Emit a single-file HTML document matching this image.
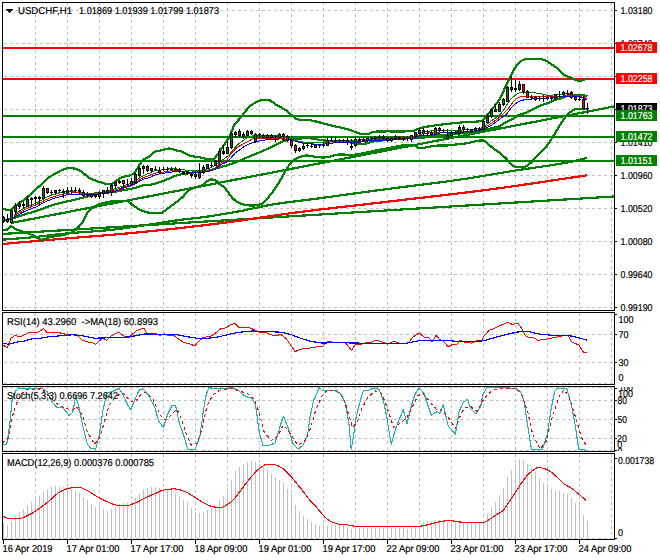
<!DOCTYPE html>
<html><head><meta charset="utf-8"><title>USDCHF,H1</title>
<style>
html,body{margin:0;padding:0;background:#fff;width:660px;height:560px;overflow:hidden}
svg{display:block}
text{font-family:"Liberation Sans",sans-serif;font-size:10px}
</style></head><body>
<svg width="660" height="560" viewBox="0 0 660 560" text-rendering="geometricPrecision">
<rect width="660" height="560" fill="#fff"/>
<line x1="4" y1="10.5" x2="614" y2="10.5" stroke="#c0c0c0" stroke-width="1" stroke-dasharray="3,3"/>
<line x1="4" y1="43.5" x2="614" y2="43.5" stroke="#c0c0c0" stroke-width="1" stroke-dasharray="3,3"/>
<line x1="4" y1="76.5" x2="614" y2="76.5" stroke="#c0c0c0" stroke-width="1" stroke-dasharray="3,3"/>
<line x1="4" y1="109.5" x2="614" y2="109.5" stroke="#c0c0c0" stroke-width="1" stroke-dasharray="3,3"/>
<line x1="4" y1="142.5" x2="614" y2="142.5" stroke="#c0c0c0" stroke-width="1" stroke-dasharray="3,3"/>
<line x1="4" y1="175.5" x2="614" y2="175.5" stroke="#c0c0c0" stroke-width="1" stroke-dasharray="3,3"/>
<line x1="4" y1="208.5" x2="614" y2="208.5" stroke="#c0c0c0" stroke-width="1" stroke-dasharray="3,3"/>
<line x1="4" y1="241.5" x2="614" y2="241.5" stroke="#c0c0c0" stroke-width="1" stroke-dasharray="3,3"/>
<line x1="4" y1="274.5" x2="614" y2="274.5" stroke="#c0c0c0" stroke-width="1" stroke-dasharray="3,3"/>
<line x1="4" y1="307.5" x2="614" y2="307.5" stroke="#c0c0c0" stroke-width="1" stroke-dasharray="3,3"/>
<line x1="35.5" y1="2" x2="35.5" y2="310" stroke="#c0c0c0" stroke-width="1" stroke-dasharray="3,3"/>
<line x1="67.5" y1="2" x2="67.5" y2="310" stroke="#c0c0c0" stroke-width="1" stroke-dasharray="3,3"/>
<line x1="99.5" y1="2" x2="99.5" y2="310" stroke="#c0c0c0" stroke-width="1" stroke-dasharray="3,3"/>
<line x1="131.5" y1="2" x2="131.5" y2="310" stroke="#c0c0c0" stroke-width="1" stroke-dasharray="3,3"/>
<line x1="163.5" y1="2" x2="163.5" y2="310" stroke="#c0c0c0" stroke-width="1" stroke-dasharray="3,3"/>
<line x1="195.5" y1="2" x2="195.5" y2="310" stroke="#c0c0c0" stroke-width="1" stroke-dasharray="3,3"/>
<line x1="227.5" y1="2" x2="227.5" y2="310" stroke="#c0c0c0" stroke-width="1" stroke-dasharray="3,3"/>
<line x1="259.5" y1="2" x2="259.5" y2="310" stroke="#c0c0c0" stroke-width="1" stroke-dasharray="3,3"/>
<line x1="291.5" y1="2" x2="291.5" y2="310" stroke="#c0c0c0" stroke-width="1" stroke-dasharray="3,3"/>
<line x1="323.5" y1="2" x2="323.5" y2="310" stroke="#c0c0c0" stroke-width="1" stroke-dasharray="3,3"/>
<line x1="355.5" y1="2" x2="355.5" y2="310" stroke="#c0c0c0" stroke-width="1" stroke-dasharray="3,3"/>
<line x1="387.5" y1="2" x2="387.5" y2="310" stroke="#c0c0c0" stroke-width="1" stroke-dasharray="3,3"/>
<line x1="419.5" y1="2" x2="419.5" y2="310" stroke="#c0c0c0" stroke-width="1" stroke-dasharray="3,3"/>
<line x1="451.5" y1="2" x2="451.5" y2="310" stroke="#c0c0c0" stroke-width="1" stroke-dasharray="3,3"/>
<line x1="483.5" y1="2" x2="483.5" y2="310" stroke="#c0c0c0" stroke-width="1" stroke-dasharray="3,3"/>
<line x1="515.5" y1="2" x2="515.5" y2="310" stroke="#c0c0c0" stroke-width="1" stroke-dasharray="3,3"/>
<line x1="547.5" y1="2" x2="547.5" y2="310" stroke="#c0c0c0" stroke-width="1" stroke-dasharray="3,3"/>
<line x1="579.5" y1="2" x2="579.5" y2="310" stroke="#c0c0c0" stroke-width="1" stroke-dasharray="3,3"/>
<line x1="611.5" y1="2" x2="611.5" y2="310" stroke="#c0c0c0" stroke-width="1" stroke-dasharray="3,3"/>
<line x1="4" y1="334.5" x2="614" y2="334.5" stroke="#c0c0c0" stroke-width="1" stroke-dasharray="3,3"/>
<line x1="4" y1="362.5" x2="614" y2="362.5" stroke="#c0c0c0" stroke-width="1" stroke-dasharray="3,3"/>
<line x1="4" y1="383.5" x2="614" y2="383.5" stroke="#c0c0c0" stroke-width="1" stroke-dasharray="3,3"/>
<line x1="35.5" y1="313" x2="35.5" y2="384" stroke="#c0c0c0" stroke-width="1" stroke-dasharray="3,3"/>
<line x1="67.5" y1="313" x2="67.5" y2="384" stroke="#c0c0c0" stroke-width="1" stroke-dasharray="3,3"/>
<line x1="99.5" y1="313" x2="99.5" y2="384" stroke="#c0c0c0" stroke-width="1" stroke-dasharray="3,3"/>
<line x1="131.5" y1="313" x2="131.5" y2="384" stroke="#c0c0c0" stroke-width="1" stroke-dasharray="3,3"/>
<line x1="163.5" y1="313" x2="163.5" y2="384" stroke="#c0c0c0" stroke-width="1" stroke-dasharray="3,3"/>
<line x1="195.5" y1="313" x2="195.5" y2="384" stroke="#c0c0c0" stroke-width="1" stroke-dasharray="3,3"/>
<line x1="227.5" y1="313" x2="227.5" y2="384" stroke="#c0c0c0" stroke-width="1" stroke-dasharray="3,3"/>
<line x1="259.5" y1="313" x2="259.5" y2="384" stroke="#c0c0c0" stroke-width="1" stroke-dasharray="3,3"/>
<line x1="291.5" y1="313" x2="291.5" y2="384" stroke="#c0c0c0" stroke-width="1" stroke-dasharray="3,3"/>
<line x1="323.5" y1="313" x2="323.5" y2="384" stroke="#c0c0c0" stroke-width="1" stroke-dasharray="3,3"/>
<line x1="355.5" y1="313" x2="355.5" y2="384" stroke="#c0c0c0" stroke-width="1" stroke-dasharray="3,3"/>
<line x1="387.5" y1="313" x2="387.5" y2="384" stroke="#c0c0c0" stroke-width="1" stroke-dasharray="3,3"/>
<line x1="419.5" y1="313" x2="419.5" y2="384" stroke="#c0c0c0" stroke-width="1" stroke-dasharray="3,3"/>
<line x1="451.5" y1="313" x2="451.5" y2="384" stroke="#c0c0c0" stroke-width="1" stroke-dasharray="3,3"/>
<line x1="483.5" y1="313" x2="483.5" y2="384" stroke="#c0c0c0" stroke-width="1" stroke-dasharray="3,3"/>
<line x1="515.5" y1="313" x2="515.5" y2="384" stroke="#c0c0c0" stroke-width="1" stroke-dasharray="3,3"/>
<line x1="547.5" y1="313" x2="547.5" y2="384" stroke="#c0c0c0" stroke-width="1" stroke-dasharray="3,3"/>
<line x1="579.5" y1="313" x2="579.5" y2="384" stroke="#c0c0c0" stroke-width="1" stroke-dasharray="3,3"/>
<line x1="611.5" y1="313" x2="611.5" y2="384" stroke="#c0c0c0" stroke-width="1" stroke-dasharray="3,3"/>
<line x1="4" y1="387.5" x2="614" y2="387.5" stroke="#c0c0c0" stroke-width="1" stroke-dasharray="3,3"/>
<line x1="4" y1="400.5" x2="614" y2="400.5" stroke="#c0c0c0" stroke-width="1" stroke-dasharray="3,3"/>
<line x1="4" y1="419.5" x2="614" y2="419.5" stroke="#c0c0c0" stroke-width="1" stroke-dasharray="3,3"/>
<line x1="4" y1="438.5" x2="614" y2="438.5" stroke="#c0c0c0" stroke-width="1" stroke-dasharray="3,3"/>
<line x1="4" y1="450.5" x2="614" y2="450.5" stroke="#c0c0c0" stroke-width="1" stroke-dasharray="3,3"/>
<line x1="35.5" y1="387" x2="35.5" y2="451" stroke="#c0c0c0" stroke-width="1" stroke-dasharray="3,3"/>
<line x1="67.5" y1="387" x2="67.5" y2="451" stroke="#c0c0c0" stroke-width="1" stroke-dasharray="3,3"/>
<line x1="99.5" y1="387" x2="99.5" y2="451" stroke="#c0c0c0" stroke-width="1" stroke-dasharray="3,3"/>
<line x1="131.5" y1="387" x2="131.5" y2="451" stroke="#c0c0c0" stroke-width="1" stroke-dasharray="3,3"/>
<line x1="163.5" y1="387" x2="163.5" y2="451" stroke="#c0c0c0" stroke-width="1" stroke-dasharray="3,3"/>
<line x1="195.5" y1="387" x2="195.5" y2="451" stroke="#c0c0c0" stroke-width="1" stroke-dasharray="3,3"/>
<line x1="227.5" y1="387" x2="227.5" y2="451" stroke="#c0c0c0" stroke-width="1" stroke-dasharray="3,3"/>
<line x1="259.5" y1="387" x2="259.5" y2="451" stroke="#c0c0c0" stroke-width="1" stroke-dasharray="3,3"/>
<line x1="291.5" y1="387" x2="291.5" y2="451" stroke="#c0c0c0" stroke-width="1" stroke-dasharray="3,3"/>
<line x1="323.5" y1="387" x2="323.5" y2="451" stroke="#c0c0c0" stroke-width="1" stroke-dasharray="3,3"/>
<line x1="355.5" y1="387" x2="355.5" y2="451" stroke="#c0c0c0" stroke-width="1" stroke-dasharray="3,3"/>
<line x1="387.5" y1="387" x2="387.5" y2="451" stroke="#c0c0c0" stroke-width="1" stroke-dasharray="3,3"/>
<line x1="419.5" y1="387" x2="419.5" y2="451" stroke="#c0c0c0" stroke-width="1" stroke-dasharray="3,3"/>
<line x1="451.5" y1="387" x2="451.5" y2="451" stroke="#c0c0c0" stroke-width="1" stroke-dasharray="3,3"/>
<line x1="483.5" y1="387" x2="483.5" y2="451" stroke="#c0c0c0" stroke-width="1" stroke-dasharray="3,3"/>
<line x1="515.5" y1="387" x2="515.5" y2="451" stroke="#c0c0c0" stroke-width="1" stroke-dasharray="3,3"/>
<line x1="547.5" y1="387" x2="547.5" y2="451" stroke="#c0c0c0" stroke-width="1" stroke-dasharray="3,3"/>
<line x1="579.5" y1="387" x2="579.5" y2="451" stroke="#c0c0c0" stroke-width="1" stroke-dasharray="3,3"/>
<line x1="611.5" y1="387" x2="611.5" y2="451" stroke="#c0c0c0" stroke-width="1" stroke-dasharray="3,3"/>
<line x1="4" y1="538.5" x2="614" y2="538.5" stroke="#c0c0c0" stroke-width="1" stroke-dasharray="3,3"/>
<line x1="35.5" y1="454" x2="35.5" y2="539" stroke="#c0c0c0" stroke-width="1" stroke-dasharray="3,3"/>
<line x1="67.5" y1="454" x2="67.5" y2="539" stroke="#c0c0c0" stroke-width="1" stroke-dasharray="3,3"/>
<line x1="99.5" y1="454" x2="99.5" y2="539" stroke="#c0c0c0" stroke-width="1" stroke-dasharray="3,3"/>
<line x1="131.5" y1="454" x2="131.5" y2="539" stroke="#c0c0c0" stroke-width="1" stroke-dasharray="3,3"/>
<line x1="163.5" y1="454" x2="163.5" y2="539" stroke="#c0c0c0" stroke-width="1" stroke-dasharray="3,3"/>
<line x1="195.5" y1="454" x2="195.5" y2="539" stroke="#c0c0c0" stroke-width="1" stroke-dasharray="3,3"/>
<line x1="227.5" y1="454" x2="227.5" y2="539" stroke="#c0c0c0" stroke-width="1" stroke-dasharray="3,3"/>
<line x1="259.5" y1="454" x2="259.5" y2="539" stroke="#c0c0c0" stroke-width="1" stroke-dasharray="3,3"/>
<line x1="291.5" y1="454" x2="291.5" y2="539" stroke="#c0c0c0" stroke-width="1" stroke-dasharray="3,3"/>
<line x1="323.5" y1="454" x2="323.5" y2="539" stroke="#c0c0c0" stroke-width="1" stroke-dasharray="3,3"/>
<line x1="355.5" y1="454" x2="355.5" y2="539" stroke="#c0c0c0" stroke-width="1" stroke-dasharray="3,3"/>
<line x1="387.5" y1="454" x2="387.5" y2="539" stroke="#c0c0c0" stroke-width="1" stroke-dasharray="3,3"/>
<line x1="419.5" y1="454" x2="419.5" y2="539" stroke="#c0c0c0" stroke-width="1" stroke-dasharray="3,3"/>
<line x1="451.5" y1="454" x2="451.5" y2="539" stroke="#c0c0c0" stroke-width="1" stroke-dasharray="3,3"/>
<line x1="483.5" y1="454" x2="483.5" y2="539" stroke="#c0c0c0" stroke-width="1" stroke-dasharray="3,3"/>
<line x1="515.5" y1="454" x2="515.5" y2="539" stroke="#c0c0c0" stroke-width="1" stroke-dasharray="3,3"/>
<line x1="547.5" y1="454" x2="547.5" y2="539" stroke="#c0c0c0" stroke-width="1" stroke-dasharray="3,3"/>
<line x1="579.5" y1="454" x2="579.5" y2="539" stroke="#c0c0c0" stroke-width="1" stroke-dasharray="3,3"/>
<line x1="611.5" y1="454" x2="611.5" y2="539" stroke="#c0c0c0" stroke-width="1" stroke-dasharray="3,3"/>
<defs><clipPath id="cm"><rect x="3" y="3" width="611" height="307"/></clipPath><clipPath id="cr"><rect x="3" y="313" width="611" height="71"/></clipPath><clipPath id="cs"><rect x="3" y="387" width="611" height="64"/></clipPath><clipPath id="cd"><rect x="3" y="454" width="611" height="85"/></clipPath></defs>
<g clip-path="url(#cm)">
<line x1="2" y1="48" x2="614" y2="48" stroke="#ff0000" stroke-width="2"/>
<line x1="2" y1="79" x2="614" y2="79" stroke="#ff0000" stroke-width="2"/>
<line x1="2" y1="116" x2="614" y2="116" stroke="#008000" stroke-width="2"/>
<line x1="2" y1="137" x2="614" y2="137" stroke="#008000" stroke-width="2"/>
<line x1="2" y1="161" x2="614" y2="161" stroke="#008000" stroke-width="2"/>
<polyline points="2,234 614,196.5" fill="none" stroke="#008000" stroke-width="2.2" stroke-linejoin="round" shape-rendering="crispEdges" />
<polyline points="2,239.7 4,239.54 6,239.39 8,239.24 10,239.09 12,238.94 14,238.79 16,238.64 18,238.49 20,238.34 22,238.18 24,238.02 26,237.85 28,237.68 30,237.5 32,237.31 34,237.11 36,236.9 38,236.68 40,236.46 42,236.22 44,235.99 46,235.75 48,235.51 50,235.27 52,235.03 54,234.79 56,234.56 58,234.33 60,234.11 62,233.9 64,233.69 66,233.5 68,233.32 70,233.14 72,232.98 74,232.82 76,232.66 78,232.51 80,232.36 82,232.22 84,232.08 86,231.94 88,231.79 90,231.65 92,231.51 94,231.36 96,231.21 98,231.06 100,230.9 102,230.74 104,230.56 106,230.39 108,230.2 110,230 112,229.79 114,229.57 116,229.34 118,229.09 120,228.84 122,228.58 124,228.31 126,228.04 128,227.75 130,227.47 132,227.17 134,226.88 136,226.58 138,226.28 140,225.98 142,225.68 144,225.38 146,225.09 148,224.79 150,224.5 151.94,224.22 153.88,223.92 155.81,223.63 157.75,223.32 159.69,223.02 161.62,222.71 163.56,222.4 165.5,222.09 167.44,221.79 169.38,221.48 171.31,221.18 173.25,220.89 175.19,220.6 177.12,220.33 179.06,220.06 181,219.8 182.9,219.56 184.8,219.34 186.7,219.12 188.6,218.91 190.5,218.7 192.4,218.5 194.3,218.29 196.2,218.07 198.1,217.84 200,217.6 202.02,217.33 204.04,217.05 206.07,216.76 208.09,216.47 210.11,216.17 212.13,215.86 214.16,215.55 216.18,215.23 218.2,214.91 220.22,214.58 222.24,214.25 224.27,213.91 226.29,213.56 228.31,213.22 230.33,212.87 232.36,212.51 234.38,212.16 236.4,211.8 238.42,211.43 240.43,211.05 242.45,210.65 244.47,210.24 246.48,209.81 248.5,209.39 250.52,208.95 252.53,208.51 254.55,208.08 256.57,207.64 258.58,207.21 260.6,206.78 262.62,206.37 264.63,205.96 266.65,205.57 268.67,205.19 270.68,204.84 272.7,204.5 274.67,204.19 276.64,203.88 278.61,203.58 280.58,203.3 282.55,203.01 284.52,202.74 286.5,202.47 288.47,202.21 290.44,201.95 292.41,201.69 294.38,201.44 296.35,201.19 298.32,200.94 300.29,200.7 302.26,200.46 304.23,200.21 306.2,199.97 308.18,199.72 310.15,199.48 312.12,199.23 314.09,198.98 316.06,198.72 318.03,198.46 320,198.2 322,197.93 324,197.66 326,197.39 328,197.11 330,196.84 332,196.57 334,196.29 336,196.02 338,195.74 340,195.47 342,195.19 344,194.92 346,194.64 348,194.37 350,194.09 352,193.81 354,193.54 356,193.26 358,192.99 360,192.71 362,192.44 364,192.16 366,191.89 368,191.62 370,191.35 372,191.08 374,190.81 376,190.54 378,190.27 380,190 382,189.73 384,189.47 386,189.21 388,188.95 390,188.69 392,188.43 394,188.18 396,187.93 398,187.67 400,187.42 402,187.17 404,186.92 406,186.67 408,186.42 410,186.17 412,185.92 414,185.67 416,185.42 418,185.18 420,184.93 422,184.67 424,184.42 426,184.17 428,183.92 430,183.66 432,183.41 434,183.15 436,182.89 438,182.63 440,182.37 442,182.1 444,181.83 446,181.56 448,181.29 450,181.02 452,180.74 454,180.46 456,180.18 458,179.89 460,179.6 461.96,179.31 463.93,179.02 465.89,178.72 467.86,178.41 469.82,178.11 471.79,177.79 473.75,177.48 475.71,177.16 477.68,176.84 479.64,176.51 481.61,176.19 483.57,175.86 485.54,175.53 487.5,175.2 489.46,174.87 491.43,174.53 493.39,174.2 495.36,173.87 497.32,173.53 499.29,173.2 501.25,172.87 503.21,172.54 505.18,172.21 507.14,171.88 509.11,171.56 511.07,171.24 513.04,170.92 515,170.6 517,170.28 519,169.97 521,169.66 523,169.36 525,169.06 527,168.77 529,168.48 531,168.19 533,167.9 535,167.61 537,167.32 539,167.04 541,166.75 543,166.45 545,166.16 547,165.86 549,165.56 551,165.25 553,164.94 555,164.63 557,164.3 559,163.97 561,163.63 563,163.29 565,162.93 567,162.56 569,162.19 571,161.8 573,161.39 575,160.94 577,160.47 579,159.98 581,159.48 583,158.98 585,158.48 587,158" fill="none" stroke="#008000" stroke-width="2.2" stroke-linejoin="round" shape-rendering="crispEdges" />
<polyline points="2,244 4,243.83 6,243.66 8,243.48 10,243.31 12,243.14 14,242.97 16,242.79 18,242.62 20,242.45 22,242.28 24,242.1 26,241.93 28,241.76 30,241.58 32,241.41 34,241.24 36,241.07 38,240.89 40,240.72 42,240.55 44,240.38 46,240.21 48,240.03 50,239.86 52,239.69 54,239.52 56,239.35 58,239.18 60,239.01 62,238.84 64,238.67 66,238.5 68,238.33 70,238.16 72,238 74,237.83 76,237.67 78,237.51 80,237.35 82,237.19 84,237.03 86,236.87 88,236.71 90,236.55 92,236.39 94,236.23 96,236.07 98,235.91 100,235.75 102,235.59 104,235.43 106,235.26 108,235.1 110,234.93 112,234.77 114,234.6 116,234.43 118,234.26 120,234.09 122,233.91 124,233.73 126,233.55 128,233.37 130,233.19 132,233 134,232.81 136,232.62 138,232.43 140,232.23 142,232.04 144,231.84 146,231.64 148,231.44 150,231.24 152,231.03 154,230.83 156,230.62 158,230.41 160,230.21 162,229.99 164,229.78 166,229.57 168,229.35 170,229.14 172,228.92 174,228.7 176,228.48 178,228.26 180,228.03 182,227.81 184,227.58 186,227.35 188,227.12 190,226.89 192,226.66 194,226.43 196,226.2 198,225.96 200,225.73 202,225.49 204,225.25 206,225.01 208,224.77 210,224.53 212,224.28 214,224.04 216,223.79 218,223.55 220,223.3 222,223.05 224,222.79 226,222.54 228,222.27 230,222 232,221.73 234,221.46 236,221.18 238,220.9 240,220.62 242,220.33 244,220.05 246,219.76 248,219.47 250,219.17 252,218.88 254,218.58 256,218.29 258,217.99 260,217.69 262,217.39 264,217.1 266,216.8 268,216.5 270,216.21 272,215.91 274,215.62 276,215.32 278,215.03 280,214.74 282,214.46 284,214.17 286,213.89 288,213.61 290,213.33 292,213.06 294,212.79 296,212.52 298,212.26 300,212 302,211.74 304,211.49 306,211.24 308,210.99 310,210.74 312,210.5 314,210.25 316,210.01 318,209.77 320,209.53 322,209.3 324,209.06 326,208.82 328,208.59 330,208.36 332,208.12 334,207.89 336,207.66 338,207.43 340,207.2 342,206.97 344,206.75 346,206.52 348,206.29 350,206.06 352,205.83 354,205.61 356,205.38 358,205.15 360,204.92 362,204.69 364,204.46 366,204.23 368,204 370,203.77 372,203.54 374,203.31 376,203.07 378,202.84 380,202.6 382,202.36 383.99,202.13 385.99,201.89 387.99,201.66 389.98,201.42 391.98,201.19 393.98,200.96 395.97,200.72 397.97,200.49 399.96,200.26 401.96,200.03 403.96,199.8 405.95,199.56 407.95,199.33 409.95,199.1 411.94,198.87 413.94,198.64 415.94,198.41 417.93,198.18 419.93,197.95 421.93,197.71 423.92,197.48 425.92,197.25 427.91,197.02 429.91,196.79 431.91,196.55 433.9,196.32 435.9,196.09 437.9,195.85 439.89,195.62 441.89,195.38 443.89,195.15 445.88,194.91 447.88,194.67 449.88,194.44 451.87,194.2 453.87,193.96 455.86,193.72 457.86,193.48 459.86,193.23 461.85,192.99 463.85,192.75 465.85,192.5 467.84,192.26 469.84,192.01 471.84,191.76 473.83,191.51 475.83,191.26 477.83,191.01 479.82,190.75 481.82,190.5 483.81,190.24 485.81,189.98 487.81,189.72 489.8,189.46 491.8,189.2 493.78,188.94 495.77,188.67 497.75,188.4 499.73,188.14 501.72,187.86 503.7,187.59 505.68,187.31 507.67,187.04 509.65,186.76 511.63,186.48 513.62,186.2 515.6,185.91 517.58,185.63 519.57,185.34 521.55,185.05 523.53,184.76 525.52,184.47 527.5,184.18 529.48,183.89 531.47,183.6 533.45,183.3 535.43,183.01 537.42,182.71 539.4,182.42 541.38,182.12 543.37,181.82 545.35,181.52 547.33,181.23 549.32,180.93 551.3,180.63 553.28,180.33 555.27,180.03 557.25,179.73 559.23,179.43 561.22,179.14 563.2,178.84 565.18,178.54 567.17,178.24 569.15,177.94 571.13,177.65 573.12,177.35 575.1,177.06 577.08,176.76 579.07,176.47 581.05,176.17 583.03,175.88 585.02,175.59 587,175.3" fill="none" stroke="#ff0000" stroke-width="2.2" stroke-linejoin="round" shape-rendering="crispEdges" />
<polyline points="11,223 614,106.5" fill="none" stroke="#008000" stroke-width="2.2" stroke-linejoin="round" shape-rendering="crispEdges" />
<polyline points="2,229.7 4,229.65 6,229.6 8,229.5 10.8,226.3 12.77,227.01 14.73,228.47 16.7,229.7 18.77,230.43 20.85,231.01 22.93,231.57 25,232.2 27.07,232.94 29.15,233.75 31.22,234.6 33.3,235.5 35.4,236.68 37.5,238.06 39.6,239.22 41.7,239.7 43.78,239.39 45.85,238.68 47.92,237.85 50,237.2 52,236.8 54,236.46 56,236.16 58,235.85 60,235.5 62.08,235.13 64.15,234.77 66.22,234.34 68.3,233.8 70.8,232.75 73.3,231.3 75.8,229.47 78.3,227.2 80.8,224.57 83.3,221.3 85.65,216.48 88,212 90,209.92 92,208.32 94,207 96,205.82 98,204.8 100,204 102,203.37 104,202.83 106,202.37 108,202 110,201.66 112,201.33 114,201.09 116,201 117.92,201 119.83,201 121.75,201 123.67,201 125.58,201 127.5,201 130,202.56 132.5,205 134.38,206.29 136.25,207.51 138.12,208.62 140,209.6 142.27,210.7 144.53,211.67 146.8,212.3 148.87,212.64 150.93,212.9 153,213 154.88,213 156.75,213 158.62,213 160.5,213 162.77,212.27 165.03,210.64 167.3,208.9 169.35,207.46 171.4,205.93 173.45,204.32 175.5,202.7 177.55,201.11 179.6,199.52 181.65,197.81 183.7,195.9 185.7,193.36 187.7,191.1 190,189.67 192.3,188.59 194.6,187.7 196.87,187.03 199.13,186.47 201.4,185.7 203.2,184.53 205,182.98 206.8,181.6 208.85,180.24 210.9,179.5 212.95,179.58 215,179.8 217.05,181.34 219.1,183.6 220.93,184.95 222.77,186.19 224.6,187.7 226.4,189.88 228.2,192.52 230,195 232.5,198.08 235,200.5 237.07,201.82 239.15,202.94 241.23,203.82 243.3,204.4 245.16,204.77 247.02,205.1 248.88,205.36 250.74,205.54 252.6,205.6 254.46,205.51 256.32,205.24 258.18,204.84 260.04,204.32 261.9,203.7 264.2,202.14 266.5,199.58 268.8,196.8 270.55,194.71 272.3,192.44 274.05,190.03 275.8,187.5 277.55,184.78 279.3,181.87 281.05,178.87 282.8,175.9 285.1,171.75 287.4,167.59 289.7,164.3 291.45,162.46 293.2,160.84 294.95,159.51 296.7,158.5 298.56,157.62 300.42,156.81 302.28,156.13 304.14,155.67 306,155.5 308,155.61 310,155.9 312,156.27 314,156.63 316,156.9 318,157.1 320,157.3 322,157.44 324,157.5 326,157.37 328,157.03 330,156.55 332,156 334,155.45 336,154.97 338,154.63 340,154.5 342,154.52 344,154.58 346,154.65 348,154.72 350,154.78 352,154.8 354,154.72 356,154.5 358,154.19 360,153.84 362,153.5 364,153.15 366,152.74 368,152.3 370,151.84 372,151.38 374,150.92 376,150.5 378.08,150.09 380.17,149.68 382.25,149.29 384.33,148.9 386.42,148.5 388.5,148.1 390.52,147.69 392.53,147.26 394.55,146.83 396.57,146.41 398.58,146.03 400.6,145.7 402.48,145.41 404.36,145.12 406.24,144.86 408.12,144.67 410,144.6 412,144.71 414,145 416,146.3 418,147.6 420,147.89 422,148 424,147.81 426,147.4 428,147 430.25,146.59 432.5,146.14 434.75,145.78 437,145.6 439.25,145.57 441.5,145.55 443.75,145.53 446,145.5 448.25,145.38 450.5,145.14 452.75,144.86 455,144.6 457.25,144.39 459.5,144.19 461.75,143.97 464,143.7 466.25,143.33 468.5,142.87 470.75,142.37 473,141.9 474.88,141.48 476.75,141.02 478.62,140.65 480.5,140.5 483.3,140.5 485.15,141.54 487,143.3 489.25,145.1 491.5,146.9 493.33,148.29 495.17,149.64 497,151 498.8,152.33 500.6,153.66 502.4,155.1 504.7,157.16 507,159.5 509,162.21 511,164.5 513.1,165.82 515.2,166.81 517.3,167.2 519.43,167.2 521.57,167.2 523.7,167.2 525.8,166.59 527.9,165.16 530,163.5 532.15,161.54 534.3,159.12 536.45,156.54 538.6,154.1 540.7,152.01 542.8,150.03 544.9,147.95 547,145.6 549.13,142.7 551.27,139.4 553.4,136 555.53,132.5 557.67,128.9 559.8,125.5 561.92,122.2 564.05,118.92 566.17,116 568.3,113.8 570.42,112.06 572.55,110.49 574.67,109.34 576.8,108.9 578.87,108.9 580.93,108.9 583,108.9 585,108.94 587,109" fill="none" stroke="#008000" stroke-width="2.2" stroke-linejoin="round" shape-rendering="crispEdges" />
<polyline points="2,220.5 4,220.11 6,219.74 8,219.36 10,218.95 12,218.5 14.17,217.92 16.33,217.27 18.5,216.56 20.67,215.83 22.83,215.1 25,214.4 27.08,213.77 29.17,213.15 31.25,212.54 33.33,211.92 35.42,211.27 37.5,210.6 39.58,209.87 41.67,209.09 43.75,208.28 45.83,207.47 47.92,206.7 50,206 52.08,205.35 54.17,204.74 56.25,204.15 58.33,203.58 60.42,203.03 62.5,202.5 64.44,202.02 66.39,201.57 68.33,201.13 70.28,200.71 72.22,200.29 74.17,199.86 76.11,199.43 78.06,198.98 80,198.5 82,197.97 84,197.42 86,196.86 88,196.3 89.98,195.72 91.96,195.11 93.94,194.51 95.92,193.99 97.9,193.6 99.79,193.33 101.68,193.11 103.56,192.92 105.45,192.75 107.34,192.59 109.22,192.42 111.11,192.23 113,192 115.17,191.68 117.33,191.33 119.5,190.93 121.67,190.52 123.83,190.11 126,189.7 127.86,189.36 129.72,189.03 131.58,188.68 133.44,188.31 135.3,187.9 137.16,187.36 139.02,186.7 140.88,186.03 142.74,185.46 144.6,185.1 146.4,184.95 148.2,184.85 150,184.7 151.94,184.41 153.89,183.98 155.83,183.44 157.77,182.82 159.71,182.15 161.66,181.47 163.6,180.8 165.56,180.08 167.51,179.25 169.47,178.36 171.43,177.48 173.39,176.64 175.34,175.89 177.3,175.3 179.48,174.78 181.66,174.32 183.84,173.91 186.02,173.54 188.2,173.2 190.47,172.87 192.73,172.57 195,172.3 196.92,172.11 198.84,171.96 200.76,171.8 202.68,171.63 204.6,171.4 206.5,171.07 208.4,170.62 210.3,170.09 212.2,169.54 214.1,169 216.4,168.35 218.7,167.67 221,167 222.8,166.5 224.6,166.02 226.4,165.5 228.32,164.91 230.24,164.31 232.16,163.67 234.08,163.01 236,162.3 237.82,161.57 239.64,160.77 241.46,159.94 243.28,159.1 245.1,158.3 246.92,157.53 248.74,156.77 250.56,156.01 252.38,155.26 254.2,154.5 256.02,153.74 257.84,152.99 259.66,152.24 261.48,151.48 263.3,150.7 265.12,149.91 266.94,149.11 268.76,148.29 270.58,147.46 272.4,146.6 274.22,145.69 276.04,144.71 277.86,143.74 279.68,142.82 281.5,142 283.3,141.29 285.1,140.65 286.9,140.1 288.6,139.6 290.3,139.16 292,138.91 294,138.82 296,138.76 298,138.72 300,138.67 302,138.33 304,138.02 306,138.02 308,138.03 310,138.27 312,138.68 314,139.01 316,139.33 318,139.59 320,139.85 322,140.25 324,140.55 326,140.62 328,140.66 330,140.72 332,140.77 334,140.83 336,140.89 338,140.94 340,141.02 342,141.25 344,141.57 346,141.84 348,142.12 350,142.45 352,142.76 354,143.03 356,143.26 358,143.46 360,143.6 362,143.66 364,143.69 366,143.5 368,143.11 370,142.48 372,141.81 374,141.39 376,141.08 378,140.85 380,140.66 382,140.45 384,140.24 386,140.02 388,139.82 390,139.61 392,139.41 394,139.22 396,139.04 398,138.85 400,138.66 402,138.49 404,138.32 406,138.14 408,138.01 410,137.94 412,137.91 414,137.97 416,138.02 418,138.01 420,138 422,137.84 424,137.56 426,137.23 428,136.86 430,136.51 432,136.17 434,135.83 436,135.54 438,135.35 440,135.2 442,135.07 444,134.94 446,134.77 448,134.58 450,134.37 452,134.14 454,133.95 456,133.76 458,133.58 460,133.4 462,133.23 464,133.03 466,132.77 468,132.47 470,132.19 472,131.93 474,131.7 476,131.46 478,131.19 480,130.86 482,130.29 484,129.72 486,129.42 488,129.12 490,128.68 492,128.19 494,127.72 496,127.2 498,126.56 500,125.77 502,124.59 504,123.3 506,122.23 508,121.22 510,120.3 512,119.32 514,117.99 516,116.62 518,115.48 520,114.56 522,113.97 524,113.41 526,112.67 528,111.84 530,110.94 532,109.96 534,108.87 536,107.77 538,106.76 540,105.85 542,105.1 544,104.42 546,103.79 548,103.13 550,102.3 552,101.4 554,100.42 556,99.57 558,99.07 560,98.6 562,97.94 564,97.19 566,96.5 567.75,95.9 569.5,95.28 571.25,94.8 573,94.6 574.75,94.61 576.5,94.62 578.25,94.66 580,94.7 582,94.98 584,95.4 585.75,95.7 587.5,96" fill="none" stroke="#008000" stroke-width="2.2" stroke-linejoin="round" shape-rendering="crispEdges" />
<polyline points="2,209 4,209.3 6,209.62 8,209.89 10,210 12,209.16 14,207.32 16,205.5 18,204.08 20,202.69 22,201.29 24,199.8 26,198.2 28,196.51 30,194.77 32,193 34,191.19 36,189.34 38,187.46 40,185.6 42,183.68 44,181.72 46,179.85 48,178.2 50,176.78 52,175.5 54,174.32 56,173.2 58,172.08 60,171 62,170.04 64,169.3 66,168.7 68,168.21 70,168 72,168.15 74,168.52 76,169 78,169.72 80,170.78 82,172 84,173.57 86,175.43 88,177 90,178.15 92,179.13 94,180 96.13,180.85 98.27,181.62 100.4,182.3 102.2,182.88 104,183.47 105.8,183.92 107.6,184.1 110.05,183.92 112.5,183.5 114.57,182.44 116.63,180.68 118.7,179.1 121,177.79 123.3,176.8 126,176.2 128.35,175.81 130.7,175.3 133,173.9 135.3,171.6 137.7,167.8 140.3,163.5 142.9,160 144.6,159.01 146.3,158.2 148,157.21 149.7,156.1 152.2,154 153.9,152.49 155.6,151.4 157.7,150.94 159.8,150.6 161.95,150.16 164.1,149.7 165.8,149.22 167.5,148.73 169.2,148.5 171.7,148.9 173.85,149.69 176,150.5 178,150.85 180,151.1 182,151.5 184,152.64 186,154 188.5,155.16 191,156 193,156.38 195,156.66 197,156.89 199,157.15 201,157.5 203.5,158.31 206,159 207.75,159.2 209.5,159.35 211.25,159.46 213,159.5 214.5,158.43 216,156.5 218,153.89 220,151 222,148.03 224,145 226,142.11 228,139 229.75,135.71 231.5,132 233,128.12 234.5,124.7 236.3,122.41 238.1,120.5 239.95,118.39 241.8,116.2 243.6,113.79 245.4,111.4 247.8,108.45 250.2,106 252.65,104.28 255.1,102.9 257.5,101.61 259.9,100.7 261.93,100.3 263.97,100.01 266,99.9 268.4,100.13 270.8,100.7 273.25,102.48 275.7,104.7 277.73,105.82 279.77,106.77 281.8,107.8 284.2,109.2 286.6,110.8 289.05,112.82 291.5,115 293.3,116.7 295.1,118.1 297.5,119.32 299.9,119.9 301.93,119.9 303.97,119.9 306,119.9 308,119.99 310,120.23 312,120.59 314,121.03 316,121.52 318,122.02 320,122.5 322,123.03 324,123.6 325.92,124.09 327.83,124.56 329.75,125.02 331.67,125.47 333.58,125.93 335.5,126.4 337.39,126.86 339.27,127.3 341.16,127.74 343.05,128.18 344.94,128.64 346.83,129.12 348.71,129.64 350.6,130.2 352.45,130.86 354.3,131.63 356.15,132.39 358,133 360,133.58 362,134.08 364,134.3 366,134.21 368,134 369.77,133.32 371.53,132.28 373.3,131.7 375.39,131.62 377.48,131.56 379.56,131.5 381.65,131.46 383.74,131.43 385.82,131.41 387.91,131.4 390,131.4 392,131.41 394,131.44 396,131.46 398,131.49 400,131.5 402.12,131.49 404.23,131.44 406.35,131.37 408.47,131.27 410.58,131.15 412.7,131 414.52,130.57 416.35,129.77 418.18,128.88 420,128.2 422.07,127.69 424.14,127.24 426.21,126.83 428.29,126.47 430.36,126.13 432.43,125.81 434.5,125.5 436.52,125.21 438.54,124.93 440.57,124.66 442.59,124.41 444.61,124.17 446.63,123.94 448.66,123.71 450.68,123.5 452.7,123.3 454.72,123.1 456.74,122.91 458.77,122.72 460.79,122.54 462.81,122.36 464.83,122.2 466.86,122.05 468.88,121.92 470.9,121.8 472.67,121.72 474.45,121.67 476.23,121.6 478,121.5 479.85,121.26 481.7,120.8 483.6,119.49 485.5,117.26 487.4,114.9 489.7,112.06 492,109.1 494.3,106.31 496.6,103.4 498.85,100.27 501.1,96.6 502.85,92.74 504.6,88.6 506.3,85.09 508,81.7 509.7,78.29 511.4,74.9 513.15,71.26 514.9,68 517.15,64.75 519.4,62.3 521.2,60.92 523,60 524.75,59.46 526.5,59.02 528.25,58.71 530,58.6 532.15,58.6 534.3,58.6 536.45,58.6 538.6,58.6 540.38,58.79 542.15,59.29 543.93,59.96 545.7,60.7 547.6,61.71 549.5,63 551.4,64.3 553.55,65.62 555.7,67.1 557.85,69.18 560,71.4 562.15,73.38 564.3,75 566.2,75.92 568.1,76.65 570,77.4 571.9,78.34 573.8,79.31 575.7,80 577.85,80.48 580,80.7 582,80.32 584,79.7 585.5,79.35 587,79" fill="none" stroke="#008000" stroke-width="2.2" stroke-linejoin="round" shape-rendering="crispEdges" />
<polyline points="13.5,215.4 15.3,213.96 17.1,212.6 18.92,211.38 20.74,210.22 22.56,209.13 24.38,208.12 26.2,207.2 28.02,206.38 29.84,205.66 31.66,204.97 33.48,204.27 35.3,203.5 37.55,202.45 39.8,201.3 42.1,199.9 44.4,198.5 46.65,197.34 48.9,196.3 51.2,195.35 53.5,194.5 55.75,193.72 58,193.1 60.25,192.72 62.5,192.4 64.75,191.96 67,191.7 69.25,191.73 71.5,191.8 73.75,191.89 76,192 78,192.16 80,192.4 82,192.67 84,192.93 86,193.12 88,193.2 90,193.17 92,193.1 94,192.99 96,192.85 98,192.69 100,192.5 102.17,192.18 104.35,191.68 106.53,191.1 108.7,190.5 110.64,189.96 112.58,189.37 114.52,188.75 116.46,188.12 118.4,187.5 120.3,186.92 122.2,186.34 124.1,185.74 126,185.1 127.75,184.48 129.5,183.82 131.25,183.1 133,182.3 135.3,181.02 137.6,179.5 140,177.6 142.3,176.24 144.6,175.1 146.95,174.14 149.3,173.2 151.6,171.88 153.9,170.9 156,170.67 158.1,170.5 160.09,170.23 162.07,169.88 164.06,169.5 166.04,169.13 168.03,168.81 170.01,168.58 172,168.5 174.08,168.59 176.17,168.83 178.25,169.15 180.33,169.49 182.42,169.8 184.5,170 186.42,170.12 188.33,170.24 190.25,170.34 192.17,170.42 194.08,170.48 196,170.5 198.12,170.43 200.23,170.22 202.35,169.9 204.47,169.49 206.58,169.02 208.7,168.5 210.67,167.83 212.65,166.87 214.62,165.73 216.6,164.5 218.55,163.07 220.5,161.5 222.5,159.95 224.5,158.4 226.7,156.85 228.9,155.1 231.1,152.49 233.3,149.6 235.45,146.98 237.6,144.7 239.25,143.45 240.9,142.3 242.7,140.86 244.5,139.5 246.75,138.1 249,137 251.5,136.03 254,135.5 256,135.44 258,135.38 260,135.35 262,135.32 264,135.3 266,135.3 268,135.32 270,135.37 272,135.45 274,135.56 276,135.69 278,135.84 280,136 282,136.23 284,136.58 286,137.01 288,137.49 290,138 292,138.63 294,139.42 296,140.24 298,140.98 300,141.5 302,141.87 304,142.22 306,142.53 308,142.78 310,142.94 312,143 314,142.99 316,142.95 318,142.89 320,142.81 322,142.72 324,142.61 326,142.5 328,142.32 330,142.02 332,141.67 334,141.29 336,140.94 338,140.66 340,140.5 342,140.42 344,140.36 346,140.31 348,140.27 350,140.23 352,140.2 354,140.16 356,140.12 358,140.07 360,140 362,139.91 364,139.79 366,139.64 368,139.48 370,139.31 372,139.13 374,138.95 376,138.79 378,138.63 380,138.5 382,138.39 384,138.28 386,138.19 388,138.1 390,138.01 392,137.92 394,137.83 396,137.73 398,137.62 400,137.5 402,137.38 404,137.25 406,137.12 408,136.95 410,136.75 412,136.5 414,135.97 416,135.1 418,134.08 420,133.15 422,132.5 424,132.08 426,131.69 428,131.33 430,131.03 432,130.78 434,130.6 436,130.5 438,130.45 440,130.41 442,130.38 444,130.36 446,130.34 448,130.32 450,130.3 452,130.27 454,130.24 456,130.2 458,130.14 460,130.07 462,129.99 464,129.89 466,129.77 468,129.64 470,129.5 472.16,129.32 474.32,129.1 476.48,128.81 478.64,128.45 480.8,128 482.74,127.26 484.68,126.05 486.62,124.57 488.56,122.99 490.5,121.5 492.33,120.22 494.17,118.97 496,117.68 497.83,116.3 499.67,114.76 501.5,113 503.62,110.2 505.75,106.66 507.88,103.12 510,100.3 511.88,98.37 513.76,96.56 515.64,94.97 517.52,93.69 519.4,92.8 521,92.26 522.6,92 524.48,92.04 526.36,92.14 528.24,92.28 530.12,92.44 532,92.6 534,92.78 536,92.98 538,93.22 540,93.5 542,93.93 544,94.5 546,94.99 548,95.2 550,95.17 552,95.08 554,94.96 556,94.81 558,94.66 560,94.5 562,94.3 564,94.04 566,93.78 568,93.58 570,93.5 572,93.7 574,94.2 576,94.85 578,95.5 580.25,96.27 582.5,97.15 584.75,98.09 587,99" fill="none" stroke="#008000" stroke-width="1" stroke-linejoin="round" shape-rendering="crispEdges" />
<polyline points="13.5,216.3 15.3,215.13 17.1,214 18.92,212.93 20.74,211.89 22.56,210.89 24.38,209.92 26.2,209 28.02,208.12 29.84,207.28 31.66,206.46 33.48,205.67 35.3,204.9 37.55,204.03 39.8,203.1 42.1,201.76 44.4,200.4 46.65,199.4 48.9,198.5 51.2,197.56 53.5,196.7 55.75,196.02 58,195.4 60.25,194.77 62.5,194.2 64.75,193.67 67,193.3 68.82,193.14 70.64,193 72.46,192.9 74.28,192.83 76.1,192.8 78.13,192.87 80.17,193.04 82.2,193.2 84.2,193.34 86.2,193.49 88.2,193.6 90.23,193.69 92.27,193.77 94.3,193.8 96.33,193.77 98.37,193.7 100.4,193.6 102.42,193.4 104.43,193.03 106.45,192.54 108.47,191.97 110.48,191.38 112.5,190.8 114.43,190.23 116.36,189.6 118.29,188.92 120.21,188.22 122.14,187.52 124.07,186.84 126,186.2 127.75,185.69 129.5,185.23 131.25,184.73 133,184.1 135.3,182.83 137.6,181.3 139.95,179.62 142.3,178.1 144.6,177.05 146.9,176.2 148.45,175.76 150,175.3 151.95,174.35 153.9,173.5 156.03,173.07 158.15,172.75 160.28,172.49 162.4,172.2 164.5,171.86 166.6,171.51 168.7,171.18 170.8,170.9 172.5,170.68 174.2,170.49 175.9,170.4 178.05,170.57 180.2,170.97 182.35,171.43 184.5,171.8 186.5,172.06 188.5,172.3 190.5,172.4 192.53,172.38 194.57,172.32 196.6,172.23 198.63,172.1 200.67,171.96 202.7,171.8 204.76,171.58 206.82,171.24 208.88,170.78 210.94,170.2 213,169.5 215.5,167.83 218,165.5 220.2,163.3 221.85,162.72 223.5,162.2 225.4,161.12 227.3,159.5 230,155.1 231.65,153.08 233.3,151.3 235.2,149.24 237.1,147.5 239,146.31 240.9,145.3 242.68,144.34 244.45,143.42 246.22,142.51 248,141.6 250,140.37 252,139.14 254,138.5 256.5,138.38 259,138.3 260.83,138.24 262.67,138.17 264.5,138.1 266.33,138.05 268.17,138.01 270,138 271.88,138.02 273.75,138.09 275.62,138.18 277.5,138.31 279.38,138.46 281.25,138.63 283.12,138.81 285,139 286.83,139.22 288.67,139.49 290.5,139.81 292.33,140.18 294.17,140.58 296,141 297.82,141.56 299.65,142.26 301.48,142.9 303.3,143.3 305.44,143.53 307.58,143.72 309.72,143.87 311.86,143.97 314,144 316,144 318,144 320,144 322,144 324,144 326,143.91 328,143.68 330,143.35 332,142.96 334,142.57 336,142.21 338,141.94 340,141.8 342,141.75 344,141.71 346,141.68 348,141.66 350,141.64 352,141.61 354,141.59 356,141.55 358,141.5 360,141.4 362,141.24 364,141.03 366,140.78 368,140.52 370,140.25 372,140 374,139.77 376,139.6 378,139.46 380,139.34 382,139.23 384,139.13 386,139.03 388,138.93 390,138.83 392,138.73 394,138.62 396,138.5 398,138.38 400,138.27 402,138.15 404,138.03 406,137.89 408,137.73 410,137.53 412,137.3 414,136.85 416,136.13 418,135.3 420,134.54 422,134 424.09,133.62 426.17,133.27 428.26,132.94 430.34,132.67 432.43,132.44 434.51,132.28 436.6,132.2 438.54,132.17 440.48,132.14 442.42,132.12 444.36,132.1 446.3,132.09 448.24,132.08 450.18,132.07 452.12,132.05 454.06,132.03 456,132 458,131.96 460,131.92 462,131.86 464,131.8 466,131.71 468,131.62 470,131.5 472.16,131.29 474.32,130.94 476.48,130.48 478.64,129.92 480.8,129.3 482.74,128.57 484.68,127.58 486.62,126.42 488.56,125.17 490.5,123.9 492.33,122.67 494.17,121.37 496,119.98 497.83,118.52 499.67,116.99 501.5,115.4 503.3,113.77 505.1,112.03 506.9,110.15 508.7,108.1 510.9,104.85 513.1,101.9 515.08,100.06 517.05,98.38 519.02,97.17 521,96.7 522.83,96.7 524.67,96.7 526.5,96.7 528.33,96.7 530.17,96.7 532,96.7 534.17,96.72 536.33,96.78 538.5,96.85 540.67,96.92 542.83,96.98 545,97 546.88,96.99 548.75,96.94 550.62,96.88 552.5,96.8 554.38,96.71 556.25,96.61 558.12,96.5 560,96.4 562,96.25 564,96.04 566,95.83 568,95.67 570,95.6 572,95.65 574,95.78 576,95.98 578,96.23 580,96.5 581.75,96.86 583.5,97.37 585.25,97.95 587,98.5" fill="none" stroke="#ff0000" stroke-width="1" stroke-linejoin="round" shape-rendering="crispEdges" />
<polyline points="2,219 4,219 6,219 8,219 10,219 11.75,218.51 13.5,217.6 15.3,216.54 17.1,215.4 18.92,214.4 20.74,213.43 22.56,212.51 24.38,211.63 26.2,210.8 28.02,210.04 29.84,209.35 31.66,208.67 33.48,207.97 35.3,207.2 37.55,206.1 39.8,204.9 42.1,203.51 44.4,202.2 46.65,201.26 48.9,200.4 51.2,199.41 53.5,198.5 55.75,197.81 58,197.2 60.25,196.59 62.5,196 64.75,195.36 67,194.9 68.82,194.74 70.64,194.6 72.46,194.49 74.28,194.42 76.1,194.4 78.12,194.4 80.13,194.4 82.15,194.4 84.17,194.4 86.18,194.4 88.2,194.4 90.23,194.39 92.27,194.35 94.3,194.28 96.33,194.2 98.37,194.11 100.4,194 102.42,193.84 104.43,193.58 106.45,193.25 108.47,192.87 110.48,192.44 112.5,192 114.43,191.51 116.36,190.92 118.29,190.24 120.21,189.53 122.14,188.79 124.07,188.08 126,187.4 127.75,186.85 129.5,186.33 131.25,185.77 133,185.1 135.3,183.89 137.6,182.5 139.95,181 142.3,179.7 144.6,178.94 146.9,178.3 148.45,177.88 150,177.4 151.95,176.27 153.9,175.2 156.03,174.63 158.15,174.2 160.28,173.85 162.4,173.5 164.5,173.14 166.6,172.81 168.7,172.49 170.8,172.2 172.5,171.94 174.2,171.71 175.9,171.6 178.05,171.62 180.2,171.67 182.35,171.73 184.5,171.8 186.52,171.89 188.53,172.01 190.55,172.15 192.57,172.27 194.58,172.36 196.6,172.4 198.62,172.35 200.63,172.22 202.65,172.02 204.67,171.78 206.68,171.5 208.7,171.2 210.85,170.81 213,170.2 214.95,169.07 216.9,167.6 219.1,165.92 221.3,164.4 223.75,163.32 226.2,162.2 227.85,161 229.5,159.5 231.4,157.36 233.3,155.1 234.95,153.33 236.6,151.8 238.75,150.4 240.9,149.1 242.95,147.5 245,146 246.83,145 248.67,144.13 250.5,143.4 252.53,142.71 254.57,142.11 256.6,141.6 258.5,141.17 260.4,140.77 262.3,140.39 264.2,140.06 266.1,139.79 268,139.6 270,139.45 272,139.31 274,139.18 276,139.09 278,139.02 280,139 281.88,139 283.75,139 285.62,139 287.5,139 289.62,139.28 291.75,139.94 293.88,140.74 296,141.4 298.12,141.92 300.25,142.42 302.38,142.86 304.5,143.2 306.42,143.44 308.33,143.67 310.25,143.88 312.17,144.05 314.08,144.16 316,144.2 317.94,144.19 319.88,144.16 321.82,144.12 323.76,144.06 325.7,144 327.74,143.85 329.79,143.57 331.83,143.22 333.87,142.86 335.91,142.53 337.96,142.29 340,142.2 342.04,142.2 344.09,142.2 346.13,142.2 348.18,142.2 350.22,142.2 352.27,142.2 354.31,142.2 356.36,142.2 358.4,142.2 360.55,142.05 362.7,141.69 364.85,141.29 367,141 368.92,140.85 370.84,140.72 372.76,140.61 374.68,140.5 376.6,140.4 378.54,140.3 380.48,140.21 382.42,140.12 384.36,140.03 386.3,139.95 388.24,139.87 390.18,139.78 392.12,139.69 394.06,139.6 396,139.5 398,139.4 400,139.31 402,139.21 404,139.11 406,139 408,138.86 410,138.7 412,138.5 414,138.05 416,137.28 418,136.42 420,135.69 422,135.3 423.96,135.19 425.92,135.12 427.88,135.07 429.84,135.01 431.8,134.9 433.74,134.62 435.68,134.12 437.62,133.56 439.56,133.07 441.5,132.8 443.56,132.69 445.61,132.61 447.67,132.54 449.72,132.49 451.78,132.45 453.83,132.41 455.89,132.35 457.94,132.29 460,132.2 462.08,132.09 464.16,131.96 466.24,131.82 468.32,131.65 470.4,131.45 472.48,131.23 474.56,130.98 476.64,130.69 478.72,130.36 480.8,130 482.74,129.49 484.68,128.74 486.62,127.8 488.56,126.77 490.5,125.7 492.33,124.61 494.17,123.36 496,122.01 497.83,120.6 499.67,119.18 501.5,117.8 503.9,116.1 506.3,114.2 508.2,112.07 510.1,109.49 512,106.97 513.9,105 515.88,103.45 517.85,102.06 519.82,100.96 521.8,100.3 523.84,99.96 525.88,99.74 527.92,99.56 529.96,99.37 532,99.1 534,98.59 536,98.2 538,98.15 540,98.12 542,98.1 544,98.08 546,98.07 548,98.04 550,98 552,97.9 554,97.73 556,97.5 558,97.08 560,96.7 562,96.56 564,96.45 566,96.37 568,96.32 570,96.3 572,96.32 574,96.38 576,96.47 578,96.6 580,96.93 582,97.5 583.5,98.25 585,99 587,99.5" fill="none" stroke="#0000ff" stroke-width="1" stroke-linejoin="round" shape-rendering="crispEdges" />
<rect x="3" y="216" width="1" height="7" fill="#000"/>
<rect x="2" y="217" width="3" height="5" fill="#000"/>
<rect x="3" y="218" width="1" height="3" fill="#008000"/>
<rect x="7" y="214" width="1" height="9" fill="#000"/>
<rect x="6" y="219" width="3" height="3" fill="#000"/>
<rect x="7" y="220" width="1" height="1" fill="#ff0000"/>
<rect x="11" y="210" width="1" height="14" fill="#000"/>
<rect x="10" y="210" width="3" height="13" fill="#000"/>
<rect x="11" y="211" width="1" height="11" fill="#008000"/>
<rect x="15" y="203" width="1" height="11" fill="#000"/>
<rect x="14" y="205" width="3" height="7" fill="#000"/>
<rect x="15" y="206" width="1" height="5" fill="#008000"/>
<rect x="19" y="201" width="1" height="8" fill="#000"/>
<rect x="18" y="204" width="3" height="3" fill="#000"/>
<rect x="19" y="205" width="1" height="1" fill="#008000"/>
<rect x="23" y="202" width="1" height="7" fill="#000"/>
<rect x="22" y="204" width="3" height="2" fill="#000"/>
<rect x="27" y="196" width="1" height="11" fill="#000"/>
<rect x="26" y="199" width="3" height="8" fill="#000"/>
<rect x="27" y="200" width="1" height="6" fill="#008000"/>
<rect x="31" y="197" width="1" height="9" fill="#000"/>
<rect x="30" y="198" width="3" height="2" fill="#000"/>
<rect x="35" y="196" width="1" height="10" fill="#000"/>
<rect x="34" y="197" width="3" height="2" fill="#000"/>
<rect x="39" y="196" width="1" height="9" fill="#000"/>
<rect x="38" y="197" width="3" height="2" fill="#000"/>
<rect x="43" y="186" width="1" height="13" fill="#000"/>
<rect x="42" y="188" width="3" height="11" fill="#000"/>
<rect x="43" y="189" width="1" height="9" fill="#008000"/>
<rect x="47" y="188" width="1" height="6" fill="#000"/>
<rect x="46" y="188" width="3" height="5" fill="#000"/>
<rect x="47" y="189" width="1" height="3" fill="#ff0000"/>
<rect x="51" y="190" width="1" height="5" fill="#000"/>
<rect x="50" y="192" width="3" height="1" fill="#000"/>
<rect x="55" y="190" width="1" height="5" fill="#000"/>
<rect x="54" y="190" width="3" height="3" fill="#000"/>
<rect x="55" y="191" width="1" height="1" fill="#008000"/>
<rect x="59" y="189" width="1" height="4" fill="#000"/>
<rect x="58" y="190" width="3" height="1" fill="#000"/>
<rect x="63" y="189" width="1" height="9" fill="#000"/>
<rect x="62" y="191" width="3" height="2" fill="#000"/>
<rect x="67" y="187" width="1" height="7" fill="#000"/>
<rect x="66" y="190" width="3" height="3" fill="#000"/>
<rect x="67" y="191" width="1" height="1" fill="#008000"/>
<rect x="71" y="187" width="1" height="7" fill="#000"/>
<rect x="70" y="190" width="3" height="1" fill="#000"/>
<rect x="75" y="187" width="1" height="6" fill="#000"/>
<rect x="74" y="190" width="3" height="1" fill="#000"/>
<rect x="79" y="188" width="1" height="6" fill="#000"/>
<rect x="78" y="190" width="3" height="2" fill="#000"/>
<rect x="83" y="190" width="1" height="7" fill="#000"/>
<rect x="82" y="192" width="3" height="4" fill="#000"/>
<rect x="83" y="193" width="1" height="2" fill="#ff0000"/>
<rect x="87" y="192" width="1" height="5" fill="#000"/>
<rect x="86" y="194" width="3" height="2" fill="#000"/>
<rect x="91" y="193" width="1" height="5" fill="#000"/>
<rect x="90" y="194" width="3" height="3" fill="#000"/>
<rect x="91" y="195" width="1" height="1" fill="#008000"/>
<rect x="95" y="194" width="1" height="4" fill="#000"/>
<rect x="94" y="195" width="3" height="2" fill="#000"/>
<rect x="99" y="191" width="1" height="8" fill="#000"/>
<rect x="98" y="192" width="3" height="5" fill="#000"/>
<rect x="99" y="193" width="1" height="3" fill="#008000"/>
<rect x="103" y="190" width="1" height="8" fill="#000"/>
<rect x="102" y="190" width="3" height="4" fill="#000"/>
<rect x="103" y="191" width="1" height="2" fill="#008000"/>
<rect x="107" y="187" width="1" height="7" fill="#000"/>
<rect x="106" y="190" width="3" height="3" fill="#000"/>
<rect x="107" y="191" width="1" height="1" fill="#ff0000"/>
<rect x="111" y="183" width="1" height="13" fill="#000"/>
<rect x="110" y="185" width="3" height="8" fill="#000"/>
<rect x="111" y="186" width="1" height="6" fill="#008000"/>
<rect x="115" y="181" width="1" height="8" fill="#000"/>
<rect x="114" y="182" width="3" height="4" fill="#000"/>
<rect x="115" y="183" width="1" height="2" fill="#008000"/>
<rect x="119" y="180" width="1" height="4" fill="#000"/>
<rect x="118" y="181" width="3" height="2" fill="#000"/>
<rect x="123" y="180" width="1" height="11" fill="#000"/>
<rect x="122" y="180" width="3" height="4" fill="#000"/>
<rect x="123" y="181" width="1" height="2" fill="#ff0000"/>
<rect x="127" y="179" width="1" height="7" fill="#000"/>
<rect x="126" y="184" width="3" height="1" fill="#000"/>
<rect x="131" y="178" width="1" height="7" fill="#000"/>
<rect x="130" y="181" width="3" height="4" fill="#000"/>
<rect x="131" y="182" width="1" height="2" fill="#008000"/>
<rect x="135" y="173" width="1" height="11" fill="#000"/>
<rect x="134" y="174" width="3" height="9" fill="#000"/>
<rect x="135" y="175" width="1" height="7" fill="#008000"/>
<rect x="139" y="167" width="1" height="10" fill="#000"/>
<rect x="138" y="168" width="3" height="8" fill="#000"/>
<rect x="139" y="169" width="1" height="6" fill="#008000"/>
<rect x="143" y="165" width="1" height="9" fill="#000"/>
<rect x="142" y="166" width="3" height="3" fill="#000"/>
<rect x="143" y="167" width="1" height="1" fill="#008000"/>
<rect x="147" y="165" width="1" height="7" fill="#000"/>
<rect x="146" y="166" width="3" height="5" fill="#000"/>
<rect x="147" y="167" width="1" height="3" fill="#ff0000"/>
<rect x="151" y="168" width="1" height="5" fill="#000"/>
<rect x="150" y="168" width="3" height="3" fill="#000"/>
<rect x="151" y="169" width="1" height="1" fill="#008000"/>
<rect x="155" y="166" width="1" height="5" fill="#000"/>
<rect x="154" y="169" width="3" height="1" fill="#000"/>
<rect x="159" y="167" width="1" height="7" fill="#000"/>
<rect x="158" y="170" width="3" height="3" fill="#000"/>
<rect x="159" y="171" width="1" height="1" fill="#008000"/>
<rect x="163" y="167" width="1" height="4" fill="#000"/>
<rect x="162" y="169" width="3" height="1" fill="#000"/>
<rect x="167" y="167" width="1" height="4" fill="#000"/>
<rect x="166" y="169" width="3" height="1" fill="#000"/>
<rect x="171" y="167" width="1" height="4" fill="#000"/>
<rect x="170" y="169" width="3" height="1" fill="#000"/>
<rect x="175" y="167" width="1" height="4" fill="#000"/>
<rect x="174" y="169" width="3" height="1" fill="#000"/>
<rect x="179" y="168" width="1" height="5" fill="#000"/>
<rect x="178" y="169" width="3" height="3" fill="#000"/>
<rect x="179" y="170" width="1" height="1" fill="#ff0000"/>
<rect x="183" y="171" width="1" height="4" fill="#000"/>
<rect x="182" y="172" width="3" height="2" fill="#000"/>
<rect x="187" y="172" width="1" height="3" fill="#000"/>
<rect x="186" y="172" width="3" height="2" fill="#000"/>
<rect x="191" y="173" width="1" height="5" fill="#000"/>
<rect x="190" y="174" width="3" height="2" fill="#000"/>
<rect x="195" y="172" width="1" height="7" fill="#000"/>
<rect x="194" y="174" width="3" height="3" fill="#000"/>
<rect x="195" y="175" width="1" height="1" fill="#ff0000"/>
<rect x="199" y="163" width="1" height="16" fill="#000"/>
<rect x="198" y="172" width="3" height="6" fill="#000"/>
<rect x="199" y="173" width="1" height="4" fill="#008000"/>
<rect x="203" y="165" width="1" height="9" fill="#000"/>
<rect x="202" y="167" width="3" height="6" fill="#000"/>
<rect x="203" y="168" width="1" height="4" fill="#008000"/>
<rect x="207" y="164" width="1" height="5" fill="#000"/>
<rect x="206" y="164" width="3" height="5" fill="#000"/>
<rect x="207" y="165" width="1" height="3" fill="#008000"/>
<rect x="211" y="162" width="1" height="6" fill="#000"/>
<rect x="210" y="165" width="3" height="1" fill="#000"/>
<rect x="215" y="160" width="1" height="6" fill="#000"/>
<rect x="214" y="161" width="3" height="5" fill="#000"/>
<rect x="215" y="162" width="1" height="3" fill="#008000"/>
<rect x="219" y="148" width="1" height="15" fill="#000"/>
<rect x="218" y="151" width="3" height="11" fill="#000"/>
<rect x="219" y="152" width="1" height="9" fill="#008000"/>
<rect x="223" y="145" width="1" height="10" fill="#000"/>
<rect x="222" y="151" width="3" height="3" fill="#000"/>
<rect x="227" y="141" width="1" height="13" fill="#000"/>
<rect x="226" y="147" width="3" height="7" fill="#000"/>
<rect x="227" y="148" width="1" height="5" fill="#008000"/>
<rect x="231" y="132" width="1" height="17" fill="#000"/>
<rect x="230" y="133" width="3" height="15" fill="#000"/>
<rect x="231" y="134" width="1" height="13" fill="#008000"/>
<rect x="235" y="131" width="1" height="7" fill="#000"/>
<rect x="234" y="132" width="3" height="3" fill="#000"/>
<rect x="235" y="133" width="1" height="1" fill="#008000"/>
<rect x="239" y="129" width="1" height="8" fill="#000"/>
<rect x="238" y="131" width="3" height="5" fill="#000"/>
<rect x="239" y="132" width="1" height="3" fill="#ff0000"/>
<rect x="243" y="132" width="1" height="7" fill="#000"/>
<rect x="242" y="134" width="3" height="3" fill="#000"/>
<rect x="243" y="135" width="1" height="1" fill="#008000"/>
<rect x="247" y="130" width="1" height="6" fill="#000"/>
<rect x="246" y="131" width="3" height="5" fill="#000"/>
<rect x="247" y="132" width="1" height="3" fill="#008000"/>
<rect x="251" y="130" width="1" height="5" fill="#000"/>
<rect x="250" y="131" width="3" height="3" fill="#000"/>
<rect x="251" y="132" width="1" height="1" fill="#ff0000"/>
<rect x="255" y="133" width="1" height="10" fill="#000"/>
<rect x="254" y="134" width="3" height="8" fill="#000"/>
<rect x="255" y="135" width="1" height="6" fill="#008000"/>
<rect x="259" y="133" width="1" height="4" fill="#000"/>
<rect x="258" y="134" width="3" height="1" fill="#000"/>
<rect x="263" y="134" width="1" height="5" fill="#000"/>
<rect x="262" y="135" width="3" height="3" fill="#000"/>
<rect x="263" y="136" width="1" height="1" fill="#008000"/>
<rect x="267" y="134" width="1" height="5" fill="#000"/>
<rect x="266" y="135" width="3" height="3" fill="#000"/>
<rect x="267" y="136" width="1" height="1" fill="#008000"/>
<rect x="271" y="134" width="1" height="4" fill="#000"/>
<rect x="270" y="135" width="3" height="3" fill="#000"/>
<rect x="271" y="136" width="1" height="1" fill="#008000"/>
<rect x="275" y="135" width="1" height="7" fill="#000"/>
<rect x="274" y="136" width="3" height="1" fill="#000"/>
<rect x="279" y="133" width="1" height="6" fill="#000"/>
<rect x="278" y="134" width="3" height="4" fill="#000"/>
<rect x="279" y="135" width="1" height="2" fill="#008000"/>
<rect x="283" y="133" width="1" height="8" fill="#000"/>
<rect x="282" y="134" width="3" height="3" fill="#000"/>
<rect x="283" y="135" width="1" height="1" fill="#ff0000"/>
<rect x="287" y="135" width="1" height="7" fill="#000"/>
<rect x="286" y="136" width="3" height="5" fill="#000"/>
<rect x="287" y="137" width="1" height="3" fill="#ff0000"/>
<rect x="291" y="139" width="1" height="9" fill="#000"/>
<rect x="290" y="140" width="3" height="6" fill="#000"/>
<rect x="291" y="141" width="1" height="4" fill="#ff0000"/>
<rect x="295" y="144" width="1" height="9" fill="#000"/>
<rect x="294" y="145" width="3" height="6" fill="#000"/>
<rect x="295" y="146" width="1" height="4" fill="#ff0000"/>
<rect x="299" y="147" width="1" height="5" fill="#000"/>
<rect x="298" y="148" width="3" height="3" fill="#000"/>
<rect x="299" y="149" width="1" height="1" fill="#008000"/>
<rect x="303" y="144" width="1" height="6" fill="#000"/>
<rect x="302" y="146" width="3" height="3" fill="#000"/>
<rect x="303" y="147" width="1" height="1" fill="#008000"/>
<rect x="307" y="144" width="1" height="4" fill="#000"/>
<rect x="306" y="145" width="3" height="1" fill="#000"/>
<rect x="311" y="144" width="1" height="4" fill="#000"/>
<rect x="310" y="146" width="3" height="1" fill="#000"/>
<rect x="315" y="144" width="1" height="4" fill="#000"/>
<rect x="314" y="145" width="3" height="3" fill="#000"/>
<rect x="315" y="146" width="1" height="1" fill="#008000"/>
<rect x="319" y="144" width="1" height="4" fill="#000"/>
<rect x="318" y="145" width="3" height="1" fill="#000"/>
<rect x="323" y="143" width="1" height="4" fill="#000"/>
<rect x="322" y="145" width="3" height="1" fill="#000"/>
<rect x="327" y="138" width="1" height="8" fill="#000"/>
<rect x="326" y="140" width="3" height="6" fill="#000"/>
<rect x="327" y="141" width="1" height="4" fill="#008000"/>
<rect x="331" y="136" width="1" height="6" fill="#000"/>
<rect x="330" y="140" width="3" height="1" fill="#000"/>
<rect x="335" y="137" width="1" height="6" fill="#000"/>
<rect x="334" y="140" width="3" height="1" fill="#000"/>
<rect x="339" y="139" width="1" height="4" fill="#000"/>
<rect x="338" y="140" width="3" height="1" fill="#000"/>
<rect x="343" y="139" width="1" height="4" fill="#000"/>
<rect x="342" y="140" width="3" height="1" fill="#000"/>
<rect x="347" y="137" width="1" height="8" fill="#000"/>
<rect x="346" y="140" width="3" height="3" fill="#000"/>
<rect x="347" y="141" width="1" height="1" fill="#008000"/>
<rect x="351" y="139" width="1" height="11" fill="#000"/>
<rect x="350" y="146" width="3" height="2" fill="#000"/>
<rect x="355" y="137" width="1" height="10" fill="#000"/>
<rect x="354" y="139" width="3" height="7" fill="#000"/>
<rect x="355" y="140" width="1" height="5" fill="#008000"/>
<rect x="359" y="138" width="1" height="4" fill="#000"/>
<rect x="358" y="139" width="3" height="2" fill="#000"/>
<rect x="363" y="138" width="1" height="4" fill="#000"/>
<rect x="362" y="139" width="3" height="2" fill="#000"/>
<rect x="367" y="138" width="1" height="4" fill="#000"/>
<rect x="366" y="138" width="3" height="3" fill="#000"/>
<rect x="367" y="139" width="1" height="1" fill="#008000"/>
<rect x="371" y="137" width="1" height="4" fill="#000"/>
<rect x="370" y="138" width="3" height="1" fill="#000"/>
<rect x="375" y="136" width="1" height="4" fill="#000"/>
<rect x="374" y="137" width="3" height="2" fill="#000"/>
<rect x="379" y="135" width="1" height="5" fill="#000"/>
<rect x="378" y="137" width="3" height="1" fill="#000"/>
<rect x="383" y="135" width="1" height="5" fill="#000"/>
<rect x="382" y="136" width="3" height="3" fill="#000"/>
<rect x="383" y="137" width="1" height="1" fill="#008000"/>
<rect x="387" y="137" width="1" height="5" fill="#000"/>
<rect x="386" y="138" width="3" height="3" fill="#000"/>
<rect x="387" y="139" width="1" height="1" fill="#008000"/>
<rect x="391" y="137" width="1" height="5" fill="#000"/>
<rect x="390" y="138" width="3" height="3" fill="#000"/>
<rect x="391" y="139" width="1" height="1" fill="#008000"/>
<rect x="395" y="135" width="1" height="5" fill="#000"/>
<rect x="394" y="136" width="3" height="3" fill="#000"/>
<rect x="395" y="137" width="1" height="1" fill="#008000"/>
<rect x="399" y="136" width="1" height="4" fill="#000"/>
<rect x="398" y="137" width="3" height="2" fill="#000"/>
<rect x="403" y="136" width="1" height="5" fill="#000"/>
<rect x="402" y="138" width="3" height="1" fill="#000"/>
<rect x="407" y="136" width="1" height="5" fill="#000"/>
<rect x="406" y="138" width="3" height="1" fill="#000"/>
<rect x="411" y="135" width="1" height="7" fill="#000"/>
<rect x="410" y="135" width="3" height="5" fill="#000"/>
<rect x="411" y="136" width="1" height="3" fill="#008000"/>
<rect x="415" y="132" width="1" height="7" fill="#000"/>
<rect x="414" y="132" width="3" height="5" fill="#000"/>
<rect x="415" y="133" width="1" height="3" fill="#008000"/>
<rect x="419" y="128" width="1" height="6" fill="#000"/>
<rect x="418" y="130" width="3" height="4" fill="#000"/>
<rect x="419" y="131" width="1" height="2" fill="#008000"/>
<rect x="423" y="128" width="1" height="8" fill="#000"/>
<rect x="422" y="130" width="3" height="4" fill="#000"/>
<rect x="423" y="131" width="1" height="2" fill="#ff0000"/>
<rect x="427" y="130" width="1" height="5" fill="#000"/>
<rect x="426" y="133" width="3" height="1" fill="#000"/>
<rect x="431" y="131" width="1" height="5" fill="#000"/>
<rect x="430" y="132" width="3" height="3" fill="#000"/>
<rect x="431" y="133" width="1" height="1" fill="#ff0000"/>
<rect x="435" y="127" width="1" height="8" fill="#000"/>
<rect x="434" y="128" width="3" height="7" fill="#000"/>
<rect x="435" y="129" width="1" height="5" fill="#008000"/>
<rect x="439" y="127" width="1" height="5" fill="#000"/>
<rect x="438" y="128" width="3" height="3" fill="#000"/>
<rect x="439" y="129" width="1" height="1" fill="#ff0000"/>
<rect x="443" y="129" width="1" height="4" fill="#000"/>
<rect x="442" y="130" width="3" height="1" fill="#000"/>
<rect x="447" y="129" width="1" height="10" fill="#000"/>
<rect x="446" y="135" width="3" height="4" fill="#000"/>
<rect x="447" y="136" width="1" height="2" fill="#008000"/>
<rect x="451" y="131" width="1" height="6" fill="#000"/>
<rect x="450" y="132" width="3" height="4" fill="#000"/>
<rect x="451" y="133" width="1" height="2" fill="#008000"/>
<rect x="455" y="131" width="1" height="4" fill="#000"/>
<rect x="454" y="132" width="3" height="1" fill="#000"/>
<rect x="459" y="125" width="1" height="9" fill="#000"/>
<rect x="458" y="127" width="3" height="7" fill="#000"/>
<rect x="459" y="128" width="1" height="5" fill="#008000"/>
<rect x="463" y="125" width="1" height="7" fill="#000"/>
<rect x="462" y="127" width="3" height="3" fill="#000"/>
<rect x="463" y="128" width="1" height="1" fill="#ff0000"/>
<rect x="467" y="128" width="1" height="4" fill="#000"/>
<rect x="466" y="129" width="3" height="1" fill="#000"/>
<rect x="471" y="129" width="1" height="4" fill="#000"/>
<rect x="470" y="129" width="3" height="3" fill="#000"/>
<rect x="471" y="130" width="1" height="1" fill="#008000"/>
<rect x="475" y="127" width="1" height="5" fill="#000"/>
<rect x="474" y="128" width="3" height="3" fill="#000"/>
<rect x="475" y="129" width="1" height="1" fill="#008000"/>
<rect x="479" y="127" width="1" height="5" fill="#000"/>
<rect x="478" y="129" width="3" height="1" fill="#000"/>
<rect x="483" y="120" width="1" height="11" fill="#000"/>
<rect x="482" y="121" width="3" height="9" fill="#000"/>
<rect x="483" y="122" width="1" height="7" fill="#008000"/>
<rect x="487" y="114" width="1" height="9" fill="#000"/>
<rect x="486" y="116" width="3" height="7" fill="#000"/>
<rect x="487" y="117" width="1" height="5" fill="#008000"/>
<rect x="491" y="108" width="1" height="10" fill="#000"/>
<rect x="490" y="110" width="3" height="7" fill="#000"/>
<rect x="491" y="111" width="1" height="5" fill="#008000"/>
<rect x="495" y="104" width="1" height="8" fill="#000"/>
<rect x="494" y="109" width="3" height="3" fill="#000"/>
<rect x="495" y="110" width="1" height="1" fill="#008000"/>
<rect x="499" y="102" width="1" height="10" fill="#000"/>
<rect x="498" y="104" width="3" height="8" fill="#000"/>
<rect x="499" y="105" width="1" height="6" fill="#008000"/>
<rect x="503" y="98" width="1" height="8" fill="#000"/>
<rect x="502" y="99" width="3" height="6" fill="#000"/>
<rect x="503" y="100" width="1" height="4" fill="#008000"/>
<rect x="507" y="86" width="1" height="16" fill="#000"/>
<rect x="506" y="87" width="3" height="15" fill="#000"/>
<rect x="507" y="88" width="1" height="13" fill="#008000"/>
<rect x="511" y="76" width="1" height="16" fill="#000"/>
<rect x="510" y="87" width="3" height="3" fill="#000"/>
<rect x="511" y="88" width="1" height="1" fill="#008000"/>
<rect x="515" y="80" width="1" height="12" fill="#000"/>
<rect x="514" y="88" width="3" height="2" fill="#000"/>
<rect x="519" y="81" width="1" height="10" fill="#000"/>
<rect x="518" y="84" width="3" height="6" fill="#000"/>
<rect x="519" y="85" width="1" height="4" fill="#008000"/>
<rect x="523" y="84" width="1" height="10" fill="#000"/>
<rect x="522" y="84" width="3" height="8" fill="#000"/>
<rect x="523" y="85" width="1" height="6" fill="#ff0000"/>
<rect x="527" y="90" width="1" height="8" fill="#000"/>
<rect x="526" y="91" width="3" height="7" fill="#000"/>
<rect x="527" y="92" width="1" height="5" fill="#ff0000"/>
<rect x="531" y="95" width="1" height="5" fill="#000"/>
<rect x="530" y="97" width="3" height="1" fill="#000"/>
<rect x="535" y="96" width="1" height="5" fill="#000"/>
<rect x="534" y="97" width="3" height="3" fill="#000"/>
<rect x="535" y="98" width="1" height="1" fill="#ff0000"/>
<rect x="539" y="96" width="1" height="5" fill="#000"/>
<rect x="538" y="98" width="3" height="1" fill="#000"/>
<rect x="543" y="95" width="1" height="7" fill="#000"/>
<rect x="542" y="98" width="3" height="1" fill="#000"/>
<rect x="547" y="95" width="1" height="5" fill="#000"/>
<rect x="546" y="97" width="3" height="1" fill="#000"/>
<rect x="551" y="96" width="1" height="5" fill="#000"/>
<rect x="550" y="98" width="3" height="1" fill="#000"/>
<rect x="555" y="94" width="1" height="6" fill="#000"/>
<rect x="554" y="94" width="3" height="5" fill="#000"/>
<rect x="555" y="95" width="1" height="3" fill="#008000"/>
<rect x="559" y="91" width="1" height="7" fill="#000"/>
<rect x="558" y="96" width="3" height="1" fill="#000"/>
<rect x="563" y="91" width="1" height="5" fill="#000"/>
<rect x="562" y="92" width="3" height="3" fill="#000"/>
<rect x="563" y="93" width="1" height="1" fill="#008000"/>
<rect x="567" y="90" width="1" height="5" fill="#000"/>
<rect x="566" y="93" width="3" height="1" fill="#000"/>
<rect x="571" y="91" width="1" height="8" fill="#000"/>
<rect x="570" y="92" width="3" height="6" fill="#000"/>
<rect x="571" y="93" width="1" height="4" fill="#ff0000"/>
<rect x="575" y="97" width="1" height="4" fill="#000"/>
<rect x="574" y="97" width="3" height="3" fill="#000"/>
<rect x="575" y="98" width="1" height="1" fill="#ff0000"/>
<rect x="579" y="96" width="1" height="5" fill="#000"/>
<rect x="578" y="99" width="3" height="1" fill="#000"/>
<rect x="583" y="96" width="1" height="14" fill="#000"/>
<rect x="582" y="99" width="3" height="10" fill="#000"/>
<rect x="583" y="100" width="1" height="8" fill="#ff0000"/>
<rect x="587" y="103" width="1" height="11" fill="#000"/>
<rect x="586" y="108" width="3" height="1" fill="#000"/>
</g>
<g clip-path="url(#cr)">
<polyline points="2.4,344.3 7.3,348 10.9,338.2 14.5,335.8 21.8,336.3 26.7,333.4 31.5,332.2 36.4,333 40,331 43.6,328.5 47.3,333 58.2,332.2 63,333.9 72.7,334.6 77.6,335.3 82.4,340.2 87.3,341.9 92.1,342.6 95.8,344.3 99.4,340.7 103,338.2 106.7,340.2 111.5,335.8 118.8,332.2 123.6,335.8 128.5,337.8 132.1,334.6 135.8,331 140.6,329 144.2,328.5 146.7,333 155,333 159.8,335.3 164.7,333.9 169.5,335.8 174.4,335.8 179.2,339.5 184.1,342.6 188.9,343.6 195,346 198.6,341.2 203.5,337.3 210.8,336.3 215.6,332.9 220.5,329 225.3,328 230.2,324.9 235,323.2 238.6,327.3 248.3,327.3 254.4,329.8 259.2,332.2 266.5,332.9 273.8,335.8 281,334.6 285.9,338.2 290.8,345.5 295.1,351.6 300.5,349.2 307.7,348 310,348 317.3,346.7 322.1,346.7 324.5,344.3 328.2,341.2 334.2,342.6 345.2,342.6 348.8,346.7 351.7,350.8 354.8,345 360.9,344.3 365.8,342.6 370.6,342.6 375.5,340.2 380.3,341.2 387.6,344.3 392.4,341.9 396,341.9 399.7,343.1 408.2,343.1 413,337 419.1,332.9 423.9,337 428.8,337.8 432.4,341.9 436.1,335.3 439.7,339.5 443.3,341.2 448.2,346.7 453,344.3 456.7,344.3 460.3,340.2 464.8,342.6 472.1,343.1 474.5,341.2 481.8,340.2 484.2,335.8 489.1,330.5 493.9,328.5 498.8,326.1 503.6,324.2 507.3,322.5 512.1,324.2 518.2,323.7 521.8,328.5 525.5,335.8 529.1,337.8 532.7,337 537.6,340.2 544.8,339.5 549.7,338.2 554.5,337.8 559.4,336.3 567.9,335.3 571.5,341.9 578.8,345 583.6,352.3 587.3,352.8" fill="none" stroke="#ff0000" stroke-width="1" stroke-linejoin="round" shape-rendering="crispEdges" />
<polyline points="2.4,343.4 6,343.4 8,344.5 12,343.4 20,341.3 24,341.3 30,339.3 34,338.3 40,338.3 48.5,336.8 72.7,334.8 80,335.3 94.5,338.2 109,337.8 128.5,337 145.5,333.9 160,334.4 176.8,334.6 188.9,337 199.8,338.7 208.3,338.2 218,337 227.7,334.6 239.8,332.2 252,331 266.5,331.5 281,332.2 290.8,334.6 300.5,338.2 310,341.2 322.1,343.1 334.2,342.6 358.5,343.1 382.7,343.6 407,343.1 419.1,340.7 443.3,340.2 455.5,341.2 470,341.9 484.2,340.7 493.9,337.8 508.5,333.9 520.6,331.5 527.9,331.5 540,334.1 552.1,335.3 567.9,335.3 578.8,337.8 587.3,340.2" fill="none" stroke="#0000ff" stroke-width="1.2" stroke-linejoin="round" shape-rendering="crispEdges" />
</g>
<g clip-path="url(#cs)">
<polyline points="2.4,444.2 6.8,444.2 9.7,424.8 12.1,400.5 15.8,390.8 19.4,387.9 24.2,388.9 36.4,388.9 42.4,388.4 47.3,392 52.1,401.8 57,407.8 63,407.8 69.1,415.6 72.7,412.2 75.6,396.9 78.8,406.6 83.6,429.6 87.3,444.2 90.9,448.5 95.8,449 99.4,434.5 103,410.2 106.7,393.3 113.9,390.8 118.8,388.4 122.4,393.3 127.3,404.2 130.9,409.8 134.5,400.5 139.4,389.6 143,388.9 147.9,394.5 152.7,403 155,407.8 158.6,421.2 163.5,427.2 168.3,412.7 172,405.4 175.6,405.4 179.2,422.4 184.1,436.9 187.7,449.5 195,449.5 199.8,436.9 203.5,410.2 205.9,395.7 208.8,387.9 218,388.4 232.6,387.9 237.4,389.6 242.3,394.5 247.1,396.9 252,398.1 255.6,405.4 259.2,432.1 262.9,445.4 268.9,445.4 275,443 279.8,427.2 283.5,416.3 288.3,428.4 293.2,444.2 298,449 302.9,445.4 307.7,434.5 310,417.5 313.6,400.5 319.2,387.9 323.3,390.8 327,390.4 334.2,390.4 340.3,393.3 345.2,403 348.8,422.4 351.2,449.5 353.2,438.1 356.1,417.5 359.7,403 363.3,390.8 368.2,390.4 374.2,387.9 379.1,389.6 382.7,398.1 386.4,415.1 391.2,444.2 396.1,427.2 403.3,409.8 407,423.6 411.8,404.2 415.5,393.3 419.1,387.9 423.9,393.3 431.2,415.1 437.3,411.5 439.7,413.2 443.3,404.9 448.2,426 455.5,434 459.1,411.5 463.6,401.8 467.3,399.3 470.9,409 475.8,413.9 480.6,406.6 483,394.5 486.7,387.9 496.4,387.2 515.8,388.4 520.6,392 524.2,401.8 527.9,427.2 531.5,449.5 542.4,449.5 547.3,434.5 550.9,410.2 554.5,392 557,388.4 566.7,388.4 571.5,405.4 575.2,424.8 578.8,449.5 586.1,450.2" fill="none" stroke="#20b2aa" stroke-width="1.1" stroke-linejoin="round" shape-rendering="crispEdges" />
<polyline points="2.4,443 8.5,438.1 12.1,417.5 15.8,405.4 20.6,394.5 26.7,389.6 41.2,388.9 48.5,395.7 55.8,403 64.2,407.8 71.5,410.2 76.4,406.6 82.4,415.1 87.3,432.1 94.5,444.2 99.4,438.1 104.2,422.4 109.1,405.4 116.4,395.7 123.6,393.3 128.5,399.3 134.5,403 140.6,394.5 145.5,392 152.7,398.1 155,404.2 161.1,416.3 165.9,419.9 170.8,415.1 176.8,409 181.7,419.9 186.5,434.5 191.4,445.4 197.4,443 202.3,427.2 207.1,405.4 213.2,394.5 220.5,389.6 232.6,388.4 238.6,390.8 247.1,393.3 254.4,399.3 259.2,412.7 264.1,432.1 271.4,440.5 277.4,436.9 283.5,424.8 290.8,434.5 298,445.4 305.3,440.5 310,429.6 316.1,409 322.1,395.7 327,390.8 336.7,390.8 343.9,398.1 348.8,415.1 352.4,427.2 357.3,422.4 362.1,407.8 368.2,396.9 375.5,390.8 381.5,393.3 386.4,405.4 393.6,427.2 399.7,423.6 407,417.5 413,405.4 417.9,395.7 422.7,393.3 428.8,400.5 436.1,409 442.1,410.2 448.2,417.5 455.5,428.4 461.5,412.7 464.8,407.8 470.9,406.6 477,411.5 484.2,398.1 491.5,390.8 498.8,388.4 515.8,388.9 521.8,394.5 527.9,412.7 532.7,434.5 540,449 546.1,441.8 552.1,417.5 559.4,395.7 564.2,389.6 569.1,396.9 576.4,419.9 581.2,436.9 586.1,445.4" fill="none" stroke="#ff0000" stroke-width="1.1" stroke-linejoin="round" shape-rendering="crispEdges" stroke-dasharray="3,3"/>
</g>
<g clip-path="url(#cd)">
<rect x="3" y="523" width="1" height="15" fill="#c0c0c0"/>
<rect x="7" y="525" width="1" height="13" fill="#c0c0c0"/>
<rect x="11" y="521" width="1" height="17" fill="#c0c0c0"/>
<rect x="15" y="516" width="1" height="22" fill="#c0c0c0"/>
<rect x="19" y="512" width="1" height="26" fill="#c0c0c0"/>
<rect x="23" y="509" width="1" height="29" fill="#c0c0c0"/>
<rect x="27" y="505" width="1" height="33" fill="#c0c0c0"/>
<rect x="31" y="502" width="1" height="36" fill="#c0c0c0"/>
<rect x="35" y="499" width="1" height="39" fill="#c0c0c0"/>
<rect x="39" y="496" width="1" height="42" fill="#c0c0c0"/>
<rect x="43" y="491" width="1" height="47" fill="#c0c0c0"/>
<rect x="47" y="489" width="1" height="49" fill="#c0c0c0"/>
<rect x="51" y="487" width="1" height="51" fill="#c0c0c0"/>
<rect x="55" y="486" width="1" height="52" fill="#c0c0c0"/>
<rect x="59" y="486" width="1" height="52" fill="#c0c0c0"/>
<rect x="63" y="487" width="1" height="51" fill="#c0c0c0"/>
<rect x="67" y="487" width="1" height="51" fill="#c0c0c0"/>
<rect x="71" y="489" width="1" height="49" fill="#c0c0c0"/>
<rect x="75" y="491" width="1" height="47" fill="#c0c0c0"/>
<rect x="79" y="493" width="1" height="45" fill="#c0c0c0"/>
<rect x="83" y="497" width="1" height="41" fill="#c0c0c0"/>
<rect x="87" y="500" width="1" height="38" fill="#c0c0c0"/>
<rect x="91" y="504" width="1" height="34" fill="#c0c0c0"/>
<rect x="95" y="507" width="1" height="31" fill="#c0c0c0"/>
<rect x="99" y="505" width="1" height="33" fill="#c0c0c0"/>
<rect x="103" y="509" width="1" height="29" fill="#c0c0c0"/>
<rect x="107" y="511" width="1" height="27" fill="#c0c0c0"/>
<rect x="111" y="509" width="1" height="29" fill="#c0c0c0"/>
<rect x="115" y="507" width="1" height="31" fill="#c0c0c0"/>
<rect x="119" y="504" width="1" height="34" fill="#c0c0c0"/>
<rect x="123" y="503" width="1" height="35" fill="#c0c0c0"/>
<rect x="127" y="503" width="1" height="35" fill="#c0c0c0"/>
<rect x="131" y="502" width="1" height="36" fill="#c0c0c0"/>
<rect x="135" y="498" width="1" height="40" fill="#c0c0c0"/>
<rect x="139" y="494" width="1" height="44" fill="#c0c0c0"/>
<rect x="143" y="489" width="1" height="49" fill="#c0c0c0"/>
<rect x="147" y="488" width="1" height="50" fill="#c0c0c0"/>
<rect x="151" y="487" width="1" height="51" fill="#c0c0c0"/>
<rect x="155" y="487" width="1" height="51" fill="#c0c0c0"/>
<rect x="159" y="488" width="1" height="50" fill="#c0c0c0"/>
<rect x="163" y="489" width="1" height="49" fill="#c0c0c0"/>
<rect x="167" y="490" width="1" height="48" fill="#c0c0c0"/>
<rect x="171" y="491" width="1" height="47" fill="#c0c0c0"/>
<rect x="175" y="493" width="1" height="45" fill="#c0c0c0"/>
<rect x="179" y="496" width="1" height="42" fill="#c0c0c0"/>
<rect x="183" y="500" width="1" height="38" fill="#c0c0c0"/>
<rect x="187" y="502" width="1" height="36" fill="#c0c0c0"/>
<rect x="191" y="508" width="1" height="30" fill="#c0c0c0"/>
<rect x="195" y="512" width="1" height="26" fill="#c0c0c0"/>
<rect x="199" y="513" width="1" height="25" fill="#c0c0c0"/>
<rect x="203" y="512" width="1" height="26" fill="#c0c0c0"/>
<rect x="207" y="510" width="1" height="28" fill="#c0c0c0"/>
<rect x="211" y="509" width="1" height="29" fill="#c0c0c0"/>
<rect x="215" y="506" width="1" height="32" fill="#c0c0c0"/>
<rect x="219" y="500" width="1" height="38" fill="#c0c0c0"/>
<rect x="223" y="496" width="1" height="42" fill="#c0c0c0"/>
<rect x="227" y="488" width="1" height="50" fill="#c0c0c0"/>
<rect x="231" y="480" width="1" height="58" fill="#c0c0c0"/>
<rect x="235" y="471" width="1" height="67" fill="#c0c0c0"/>
<rect x="239" y="467" width="1" height="71" fill="#c0c0c0"/>
<rect x="243" y="464" width="1" height="74" fill="#c0c0c0"/>
<rect x="247" y="462" width="1" height="76" fill="#c0c0c0"/>
<rect x="251" y="460" width="1" height="78" fill="#c0c0c0"/>
<rect x="255" y="462" width="1" height="76" fill="#c0c0c0"/>
<rect x="259" y="464" width="1" height="74" fill="#c0c0c0"/>
<rect x="263" y="467" width="1" height="71" fill="#c0c0c0"/>
<rect x="267" y="470" width="1" height="68" fill="#c0c0c0"/>
<rect x="271" y="474" width="1" height="64" fill="#c0c0c0"/>
<rect x="275" y="477" width="1" height="61" fill="#c0c0c0"/>
<rect x="279" y="480" width="1" height="58" fill="#c0c0c0"/>
<rect x="283" y="483" width="1" height="55" fill="#c0c0c0"/>
<rect x="287" y="489" width="1" height="49" fill="#c0c0c0"/>
<rect x="291" y="494" width="1" height="44" fill="#c0c0c0"/>
<rect x="295" y="505" width="1" height="33" fill="#c0c0c0"/>
<rect x="299" y="511" width="1" height="27" fill="#c0c0c0"/>
<rect x="303" y="516" width="1" height="22" fill="#c0c0c0"/>
<rect x="307" y="519" width="1" height="19" fill="#c0c0c0"/>
<rect x="311" y="522" width="1" height="16" fill="#c0c0c0"/>
<rect x="315" y="524" width="1" height="14" fill="#c0c0c0"/>
<rect x="319" y="526" width="1" height="12" fill="#c0c0c0"/>
<rect x="323" y="524" width="1" height="14" fill="#c0c0c0"/>
<rect x="327" y="526" width="1" height="12" fill="#c0c0c0"/>
<rect x="331" y="525" width="1" height="13" fill="#c0c0c0"/>
<rect x="335" y="525" width="1" height="13" fill="#c0c0c0"/>
<rect x="339" y="525" width="1" height="13" fill="#c0c0c0"/>
<rect x="343" y="525" width="1" height="13" fill="#c0c0c0"/>
<rect x="347" y="527" width="1" height="11" fill="#c0c0c0"/>
<rect x="351" y="529" width="1" height="9" fill="#c0c0c0"/>
<rect x="355" y="528" width="1" height="10" fill="#c0c0c0"/>
<rect x="359" y="528" width="1" height="10" fill="#c0c0c0"/>
<rect x="363" y="528" width="1" height="10" fill="#c0c0c0"/>
<rect x="367" y="528" width="1" height="10" fill="#c0c0c0"/>
<rect x="371" y="528" width="1" height="10" fill="#c0c0c0"/>
<rect x="375" y="528" width="1" height="10" fill="#c0c0c0"/>
<rect x="379" y="528" width="1" height="10" fill="#c0c0c0"/>
<rect x="383" y="528" width="1" height="10" fill="#c0c0c0"/>
<rect x="387" y="528" width="1" height="10" fill="#c0c0c0"/>
<rect x="391" y="528" width="1" height="10" fill="#c0c0c0"/>
<rect x="395" y="528" width="1" height="10" fill="#c0c0c0"/>
<rect x="399" y="528" width="1" height="10" fill="#c0c0c0"/>
<rect x="403" y="528" width="1" height="10" fill="#c0c0c0"/>
<rect x="407" y="529" width="1" height="9" fill="#c0c0c0"/>
<rect x="411" y="528" width="1" height="10" fill="#c0c0c0"/>
<rect x="415" y="527" width="1" height="11" fill="#c0c0c0"/>
<rect x="419" y="526" width="1" height="12" fill="#c0c0c0"/>
<rect x="423" y="522" width="1" height="16" fill="#c0c0c0"/>
<rect x="427" y="521" width="1" height="17" fill="#c0c0c0"/>
<rect x="431" y="522" width="1" height="16" fill="#c0c0c0"/>
<rect x="435" y="520" width="1" height="18" fill="#c0c0c0"/>
<rect x="439" y="520" width="1" height="18" fill="#c0c0c0"/>
<rect x="443" y="520" width="1" height="18" fill="#c0c0c0"/>
<rect x="447" y="522" width="1" height="16" fill="#c0c0c0"/>
<rect x="451" y="521" width="1" height="17" fill="#c0c0c0"/>
<rect x="455" y="523" width="1" height="15" fill="#c0c0c0"/>
<rect x="459" y="523" width="1" height="15" fill="#c0c0c0"/>
<rect x="463" y="523" width="1" height="15" fill="#c0c0c0"/>
<rect x="467" y="523" width="1" height="15" fill="#c0c0c0"/>
<rect x="471" y="523" width="1" height="15" fill="#c0c0c0"/>
<rect x="475" y="523" width="1" height="15" fill="#c0c0c0"/>
<rect x="479" y="523" width="1" height="15" fill="#c0c0c0"/>
<rect x="483" y="520" width="1" height="18" fill="#c0c0c0"/>
<rect x="487" y="514" width="1" height="24" fill="#c0c0c0"/>
<rect x="491" y="507" width="1" height="31" fill="#c0c0c0"/>
<rect x="495" y="502" width="1" height="36" fill="#c0c0c0"/>
<rect x="499" y="495" width="1" height="43" fill="#c0c0c0"/>
<rect x="503" y="488" width="1" height="50" fill="#c0c0c0"/>
<rect x="507" y="477" width="1" height="61" fill="#c0c0c0"/>
<rect x="511" y="470" width="1" height="68" fill="#c0c0c0"/>
<rect x="515" y="464" width="1" height="74" fill="#c0c0c0"/>
<rect x="519" y="459" width="1" height="79" fill="#c0c0c0"/>
<rect x="523" y="460" width="1" height="78" fill="#c0c0c0"/>
<rect x="527" y="464" width="1" height="74" fill="#c0c0c0"/>
<rect x="531" y="468" width="1" height="70" fill="#c0c0c0"/>
<rect x="535" y="472" width="1" height="66" fill="#c0c0c0"/>
<rect x="539" y="478" width="1" height="60" fill="#c0c0c0"/>
<rect x="543" y="483" width="1" height="55" fill="#c0c0c0"/>
<rect x="547" y="486" width="1" height="52" fill="#c0c0c0"/>
<rect x="551" y="489" width="1" height="49" fill="#c0c0c0"/>
<rect x="555" y="490" width="1" height="48" fill="#c0c0c0"/>
<rect x="559" y="491" width="1" height="47" fill="#c0c0c0"/>
<rect x="563" y="493" width="1" height="45" fill="#c0c0c0"/>
<rect x="567" y="494" width="1" height="44" fill="#c0c0c0"/>
<rect x="571" y="498" width="1" height="40" fill="#c0c0c0"/>
<rect x="575" y="503" width="1" height="35" fill="#c0c0c0"/>
<rect x="579" y="506" width="1" height="32" fill="#c0c0c0"/>
<rect x="583" y="515" width="1" height="23" fill="#c0c0c0"/>
<rect x="587" y="521" width="1" height="17" fill="#c0c0c0"/>
<polyline points="2.9,516.5 5.17,517.31 7.43,518.13 9.7,518.5 11.64,518.5 13.58,518.5 15.52,518.5 17.46,518.5 19.4,518.5 21.34,518.26 23.28,517.64 25.22,516.76 27.16,515.77 29.1,514.8 31.04,513.8 32.98,512.66 34.92,511.42 36.86,510.12 38.8,508.8 40.74,507.45 42.68,506.04 44.62,504.57 46.56,503.05 48.5,501.5 50.44,499.8 52.38,497.96 54.32,496.11 56.26,494.41 58.2,493 60.03,491.91 61.85,490.92 63.67,490.08 65.5,489.4 67.3,488.81 69.1,488.26 70.9,487.86 72.7,487.7 74.53,487.7 76.35,487.7 78.17,487.7 80,487.7 81.83,487.99 83.65,488.71 85.47,489.66 87.3,490.6 89.24,491.65 91.18,492.86 93.12,494.16 95.06,495.43 97,496.6 98.94,497.67 100.88,498.7 102.82,499.7 104.76,500.63 106.7,501.5 108.64,502.37 110.58,503.25 112.52,504.06 114.46,504.71 116.4,505.1 118.34,505.32 120.28,505.52 122.22,505.67 124.16,505.76 126.1,505.8 128.04,505.6 129.98,505.07 131.92,504.34 133.86,503.51 135.8,502.7 137.74,501.85 139.68,500.87 141.62,499.82 143.56,498.77 145.5,497.8 147.44,496.9 149.38,496.01 151.32,495.15 153.26,494.32 155.2,493.5 157.1,492.66 159,491.77 160.9,490.93 162.8,490.24 164.7,489.8 166.64,489.52 168.58,489.27 170.52,489.08 172.46,488.95 174.4,488.9 176.34,489.04 178.28,489.43 180.22,489.98 182.16,490.63 184.1,491.3 186.04,492.09 187.98,493.1 189.92,494.23 191.86,495.43 193.8,496.6 195.74,497.8 197.68,499.09 199.62,500.39 201.56,501.62 203.5,502.7 205.44,503.71 207.38,504.71 209.32,505.62 211.26,506.34 213.2,506.8 215.02,507.07 216.85,507.29 218.68,507.44 220.5,507.5 222.3,507.21 224.1,506.47 225.9,505.47 227.7,504.4 229.52,503.14 231.35,501.55 233.18,499.73 235,497.8 236.82,495.64 238.65,493.2 240.48,490.65 242.3,488.2 244.24,485.68 246.18,483.14 248.12,480.64 250.06,478.24 252,476 253.8,474 255.6,472.06 257.4,470.29 259.2,468.8 261.02,467.39 262.85,466.03 264.68,465.01 266.5,464.6 268.32,464.6 270.15,464.6 271.98,464.6 273.8,464.6 275.62,464.87 277.45,465.56 279.28,466.49 281.1,467.5 282.9,468.67 284.7,470.15 286.5,471.84 288.3,473.6 290.12,475.52 291.95,477.65 293.78,479.87 295.6,482.1 297.54,484.46 299.48,486.85 301.42,489.28 303.36,491.73 305.3,494.2 307.65,497.34 310,500.3 312.4,502.71 314.8,505.1 317.25,508.12 319.7,511.2 321.52,513.36 323.35,515.51 325.18,517.45 327,519 328.8,520.18 330.6,521.19 332.4,522.06 334.2,522.8 336.65,523.71 339.1,524.3 340.93,524.47 342.75,524.57 344.57,524.67 346.4,524.8 348.34,525.06 350.28,525.42 352.22,525.79 354.16,526.08 356.1,526.2 358.07,526.2 360.04,526.2 362.01,526.2 363.98,526.2 365.94,526.2 367.91,526.2 369.88,526.2 371.85,526.2 373.82,526.2 375.79,526.2 377.76,526.2 379.73,526.2 381.69,526.2 383.66,526.2 385.63,526.2 387.6,526.2 389.57,526.2 391.54,526.2 393.51,526.2 395.48,526.2 397.44,526.2 399.41,526.2 401.38,526.2 403.35,526.2 405.32,526.2 407.29,526.2 409.26,526.2 411.23,526.2 413.19,526.2 415.16,526.2 417.13,526.2 419.1,526.2 421.12,526.08 423.13,525.77 425.15,525.32 427.17,524.8 429.18,524.27 431.2,523.8 433.14,523.36 435.08,522.88 437.02,522.4 438.96,521.96 440.9,521.6 442.84,521.28 444.78,520.95 446.72,520.67 448.66,520.48 450.6,520.4 453.05,520.94 455.5,521.6 457.4,521.78 459.3,521.95 461.2,522.09 463.1,522.22 465,522.34 466.9,522.43 468.8,522.5 470.7,522.56 472.6,522.59 474.5,522.6 476.62,522.6 478.75,522.6 480.88,522.6 483,522.6 485.03,522.1 487.07,520.95 489.1,519.7 490.93,518.59 492.75,517.36 494.57,516.06 496.4,514.8 498.2,513.69 500,512.65 501.8,511.48 503.6,510 506.05,506.69 508.5,502.7 510.32,499.98 512.15,497.26 513.97,494.54 515.8,491.8 517.6,489.02 519.4,486.18 521.2,483.43 523,480.9 524.83,478.49 526.65,476.16 528.47,474.08 530.3,472.4 532.42,470.7 534.55,469.12 536.67,467.96 538.8,467.5 540.8,467.7 542.8,468.19 544.8,468.8 546.83,469.59 548.87,470.65 550.9,471.9 552.93,473.45 554.97,475.3 557,477.2 558.8,478.94 560.6,480.77 562.4,482.52 564.2,484 566.03,485.16 567.85,486.14 569.67,487.09 571.5,488.2 573.33,489.55 575.15,491.06 576.97,492.64 578.8,494.2 580.62,495.72 582.45,497.24 584.27,498.77 586.1,500.3" fill="none" stroke="#ff0000" stroke-width="1.1" stroke-linejoin="round" shape-rendering="crispEdges" />
</g>
<rect x="2.5" y="2.5" width="612" height="308" fill="none" stroke="#000" stroke-width="1"/>
<rect x="2.5" y="312.5" width="612" height="72" fill="none" stroke="#000" stroke-width="1"/>
<rect x="2.5" y="386.5" width="612" height="65" fill="none" stroke="#000" stroke-width="1"/>
<rect x="2.5" y="453.5" width="612" height="86" fill="none" stroke="#000" stroke-width="1"/>
<rect x="615" y="10" width="2" height="1" fill="#000"/>
<text x="620.5" y="14" fill="#000" stroke="#000" stroke-width="0.2" font-size="10" textLength="32" lengthAdjust="spacingAndGlyphs" text-anchor="start" >1.03180</text>
<rect x="615" y="43" width="2" height="1" fill="#000"/>
<text x="620.5" y="47" fill="#000" stroke="#000" stroke-width="0.2" font-size="10" textLength="32" lengthAdjust="spacingAndGlyphs" text-anchor="start" >1.02740</text>
<rect x="615" y="142" width="2" height="1" fill="#000"/>
<text x="620.5" y="146" fill="#000" stroke="#000" stroke-width="0.2" font-size="10" textLength="32" lengthAdjust="spacingAndGlyphs" text-anchor="start" >1.01410</text>
<rect x="615" y="175" width="2" height="1" fill="#000"/>
<text x="620.5" y="179" fill="#000" stroke="#000" stroke-width="0.2" font-size="10" textLength="32" lengthAdjust="spacingAndGlyphs" text-anchor="start" >1.00960</text>
<rect x="615" y="208" width="2" height="1" fill="#000"/>
<text x="620.5" y="212" fill="#000" stroke="#000" stroke-width="0.2" font-size="10" textLength="32" lengthAdjust="spacingAndGlyphs" text-anchor="start" >1.00520</text>
<rect x="615" y="241" width="2" height="1" fill="#000"/>
<text x="620.5" y="245" fill="#000" stroke="#000" stroke-width="0.2" font-size="10" textLength="32" lengthAdjust="spacingAndGlyphs" text-anchor="start" >1.00080</text>
<rect x="615" y="274" width="2" height="1" fill="#000"/>
<text x="620.5" y="278" fill="#000" stroke="#000" stroke-width="0.2" font-size="10" textLength="32" lengthAdjust="spacingAndGlyphs" text-anchor="start" >0.99640</text>
<rect x="615" y="307" width="2" height="1" fill="#000"/>
<text x="620.5" y="311" fill="#000" stroke="#000" stroke-width="0.2" font-size="10" textLength="32" lengthAdjust="spacingAndGlyphs" text-anchor="start" >0.99190</text>
<rect x="615" y="76" width="2" height="1" fill="#000"/>
<rect x="615" y="109" width="2" height="1" fill="#000"/>
<rect x="616" y="42" width="41" height="11" fill="#ff0000"/>
<text x="620.5" y="51.0" fill="#fff" stroke="#fff" stroke-width="0.2" font-size="10" textLength="32" lengthAdjust="spacingAndGlyphs" text-anchor="start" >1.02678</text>
<rect x="616" y="73" width="41" height="11" fill="#ff0000"/>
<text x="620.5" y="82.0" fill="#fff" stroke="#fff" stroke-width="0.2" font-size="10" textLength="32" lengthAdjust="spacingAndGlyphs" text-anchor="start" >1.02258</text>
<rect x="616" y="103" width="41" height="11" fill="#000"/>
<text x="620.5" y="112.0" fill="#fff" stroke="#fff" stroke-width="0.2" font-size="10" textLength="32" lengthAdjust="spacingAndGlyphs" text-anchor="start" >1.01873</text>
<rect x="616" y="110" width="41" height="11" fill="#008000"/>
<text x="620.5" y="119.0" fill="#fff" stroke="#fff" stroke-width="0.2" font-size="10" textLength="32" lengthAdjust="spacingAndGlyphs" text-anchor="start" >1.01763</text>
<rect x="616" y="131" width="41" height="11" fill="#008000"/>
<text x="620.5" y="140.0" fill="#fff" stroke="#fff" stroke-width="0.2" font-size="10" textLength="32" lengthAdjust="spacingAndGlyphs" text-anchor="start" >1.01472</text>
<rect x="616" y="155" width="41" height="11" fill="#008000"/>
<text x="620.5" y="164.0" fill="#fff" stroke="#fff" stroke-width="0.2" font-size="10" textLength="32" lengthAdjust="spacingAndGlyphs" text-anchor="start" >1.01151</text>
<text x="618.5" y="323" fill="#000" stroke="#000" stroke-width="0.2" font-size="10" textLength="15" lengthAdjust="spacingAndGlyphs" text-anchor="start" >100</text>
<rect x="615" y="314" width="2" height="1" fill="#000"/>
<text x="618.5" y="338" fill="#000" stroke="#000" stroke-width="0.2" font-size="10" textLength="10" lengthAdjust="spacingAndGlyphs" text-anchor="start" >70</text>
<rect x="615" y="334" width="2" height="1" fill="#000"/>
<text x="618.5" y="366" fill="#000" stroke="#000" stroke-width="0.2" font-size="10" textLength="10" lengthAdjust="spacingAndGlyphs" text-anchor="start" >30</text>
<rect x="615" y="362" width="2" height="1" fill="#000"/>
<text x="618.5" y="381" fill="#000" stroke="#000" stroke-width="0.2" font-size="10" textLength="5" lengthAdjust="spacingAndGlyphs" text-anchor="start" >0</text>
<clipPath id="csl"><rect x="614" y="387" width="46" height="64"/></clipPath>
<g clip-path="url(#csl)">
<text x="619" y="390.5" fill="#000" stroke="#000" stroke-width="0.2" font-size="10" textLength="14" lengthAdjust="spacingAndGlyphs" text-anchor="start" >100</text>
<text x="617.5" y="454.7" fill="#000" stroke="#000" stroke-width="0.2" font-size="10" textLength="5" lengthAdjust="spacingAndGlyphs" text-anchor="start" >0</text>
</g>
<text x="618" y="397" fill="#000" stroke="#000" stroke-width="0.2" font-size="10" textLength="15" lengthAdjust="spacingAndGlyphs" text-anchor="start" >100</text>
<rect x="615" y="388" width="2" height="1" fill="#000"/>
<text x="617.5" y="404" fill="#000" stroke="#000" stroke-width="0.2" font-size="10" textLength="9.5" lengthAdjust="spacingAndGlyphs" text-anchor="start" >80</text>
<rect x="615" y="400" width="2" height="1" fill="#000"/>
<text x="617.5" y="423" fill="#000" stroke="#000" stroke-width="0.2" font-size="10" textLength="9.5" lengthAdjust="spacingAndGlyphs" text-anchor="start" >50</text>
<rect x="615" y="419" width="2" height="1" fill="#000"/>
<text x="617.1" y="442" fill="#000" stroke="#000" stroke-width="0.2" font-size="10" textLength="9.8" lengthAdjust="spacingAndGlyphs" text-anchor="start" >20</text>
<rect x="615" y="438" width="2" height="1" fill="#000"/>
<text x="617.3" y="448" fill="#000" stroke="#000" stroke-width="0.2" font-size="10" textLength="5" lengthAdjust="spacingAndGlyphs" text-anchor="start" >0</text>
<rect x="615" y="450" width="2" height="1" fill="#000"/>
<text x="618" y="464" fill="#000" stroke="#000" stroke-width="0.2" font-size="10" textLength="36" lengthAdjust="spacingAndGlyphs" text-anchor="start" >0.001738</text>
<rect x="615" y="458" width="2" height="1" fill="#000"/>
<text x="618" y="536" fill="#000" stroke="#000" stroke-width="0.2" font-size="10" textLength="5" lengthAdjust="spacingAndGlyphs" text-anchor="start" >0</text>
<rect x="615" y="538" width="2" height="1" fill="#000"/>
<rect x="3" y="540" width="1" height="4" fill="#000"/>
<text x="2.5" y="552" fill="#000" stroke="#000" stroke-width="0.2" font-size="10" textLength="50" lengthAdjust="spacingAndGlyphs" text-anchor="start" >16 Apr 2019</text>
<rect x="67" y="540" width="1" height="4" fill="#000"/>
<text x="66.5" y="552" fill="#000" stroke="#000" stroke-width="0.2" font-size="10" textLength="53" lengthAdjust="spacingAndGlyphs" text-anchor="start" >17 Apr 01:00</text>
<rect x="131" y="540" width="1" height="4" fill="#000"/>
<text x="130.5" y="552" fill="#000" stroke="#000" stroke-width="0.2" font-size="10" textLength="53" lengthAdjust="spacingAndGlyphs" text-anchor="start" >17 Apr 17:00</text>
<rect x="195" y="540" width="1" height="4" fill="#000"/>
<text x="194.5" y="552" fill="#000" stroke="#000" stroke-width="0.2" font-size="10" textLength="53" lengthAdjust="spacingAndGlyphs" text-anchor="start" >18 Apr 09:00</text>
<rect x="259" y="540" width="1" height="4" fill="#000"/>
<text x="258.5" y="552" fill="#000" stroke="#000" stroke-width="0.2" font-size="10" textLength="53" lengthAdjust="spacingAndGlyphs" text-anchor="start" >19 Apr 01:00</text>
<rect x="323" y="540" width="1" height="4" fill="#000"/>
<text x="322.5" y="552" fill="#000" stroke="#000" stroke-width="0.2" font-size="10" textLength="53" lengthAdjust="spacingAndGlyphs" text-anchor="start" >19 Apr 17:00</text>
<rect x="387" y="540" width="1" height="4" fill="#000"/>
<text x="386.5" y="552" fill="#000" stroke="#000" stroke-width="0.2" font-size="10" textLength="53" lengthAdjust="spacingAndGlyphs" text-anchor="start" >22 Apr 09:00</text>
<rect x="451" y="540" width="1" height="4" fill="#000"/>
<text x="450.5" y="552" fill="#000" stroke="#000" stroke-width="0.2" font-size="10" textLength="53" lengthAdjust="spacingAndGlyphs" text-anchor="start" >23 Apr 01:00</text>
<rect x="515" y="540" width="1" height="4" fill="#000"/>
<text x="514.5" y="552" fill="#000" stroke="#000" stroke-width="0.2" font-size="10" textLength="53" lengthAdjust="spacingAndGlyphs" text-anchor="start" >23 Apr 17:00</text>
<rect x="579" y="540" width="1" height="4" fill="#000"/>
<text x="578.5" y="552" fill="#000" stroke="#000" stroke-width="0.2" font-size="10" textLength="53" lengthAdjust="spacingAndGlyphs" text-anchor="start" >24 Apr 09:00</text>
<path d="M6,9h7v1h-1v1h-1v1h-1v1h-1v-1h-1v-1h-1v-1h-1z" fill="#000"/>
<text x="18" y="14" fill="#000" stroke="#000" stroke-width="0.2" font-size="10" textLength="54" lengthAdjust="spacingAndGlyphs" text-anchor="start" >USDCHF,H1</text>
<text x="79" y="14" fill="#000" stroke="#000" stroke-width="0.2" font-size="10" textLength="140" lengthAdjust="spacingAndGlyphs" text-anchor="start" >1.01869 1.01939 1.01799 1.01873</text>
<text x="7" y="325" fill="#000" stroke="#000" stroke-width="0.2" font-size="10" textLength="151" lengthAdjust="spacingAndGlyphs" text-anchor="start" >RSI(14) 43.2960&#160; -&gt;MA(18) 60.8993</text>
<text x="7" y="399" fill="#000" stroke="#000" stroke-width="0.2" font-size="10" textLength="111" lengthAdjust="spacingAndGlyphs" text-anchor="start" >Stoch(5,3,3) 0.6696 7.2642</text>
<text x="7" y="466" fill="#000" stroke="#000" stroke-width="0.2" font-size="10" textLength="147" lengthAdjust="spacingAndGlyphs" text-anchor="start" >MACD(12,26,9) 0.000376 0.000785</text>
</svg>
</body></html>
